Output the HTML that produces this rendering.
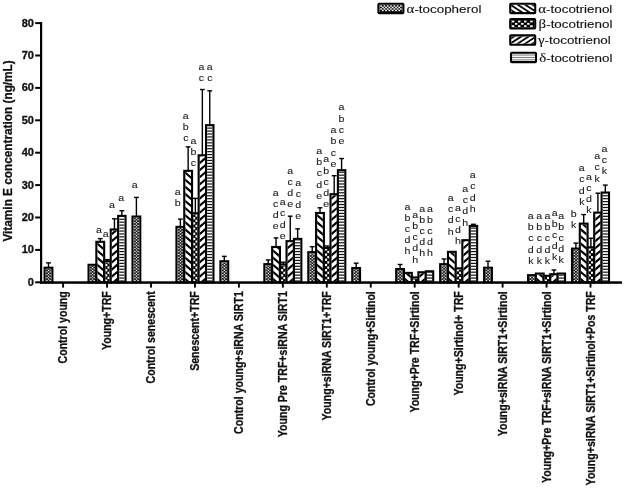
<!DOCTYPE html>
<html lang="en"><head><meta charset="utf-8"><title>Vitamin E concentration</title>
<style>html,body{margin:0;padding:0;background:#fff}svg{display:block;filter:grayscale(1)}text{font-family:"Liberation Sans",Arial,sans-serif;fill:#111}.b{font-weight:bold;stroke:#111;stroke-width:0.3}.g{font-family:"Liberation Serif","DejaVu Serif",serif}.t{stroke:#111;stroke-width:0.12}.l{stroke:#222;stroke-width:0.1;fill:#1a1a1a}.d line{stroke:#000;stroke-width:2.15}</style></head><body>
<svg width="625" height="489" viewBox="0 0 625 489">
<rect width="625" height="489" fill="#fff"/>
<g class="d">
<rect x="47.80" y="262.86" width="1.4" height="4.86" fill="#000"/>
<rect x="46.10" y="262.16" width="4.8" height="1.4" fill="#000"/>
<rect x="44.60" y="267.72" width="7.80" height="14.58" fill="#fff"/>
<clipPath id="c1"><rect x="45.65" y="268.77" width="5.70" height="12.53"/></clipPath><g clip-path="url(#c1)"><rect x="45.65" y="268.77" width="5.70" height="12.53" fill="#1c1c1c"/><rect x="46.35" y="279.97" width="1.28" height="1.16" fill="#fff"/><rect x="49.55" y="279.97" width="1.28" height="1.16" fill="#fff"/><rect x="47.95" y="278.52" width="1.28" height="1.16" fill="#fff"/><rect x="51.15" y="278.52" width="1.28" height="1.16" fill="#fff"/><rect x="46.35" y="277.07" width="1.28" height="1.16" fill="#fff"/><rect x="49.55" y="277.07" width="1.28" height="1.16" fill="#fff"/><rect x="47.95" y="275.62" width="1.28" height="1.16" fill="#fff"/><rect x="51.15" y="275.62" width="1.28" height="1.16" fill="#fff"/><rect x="46.35" y="274.17" width="1.28" height="1.16" fill="#fff"/><rect x="49.55" y="274.17" width="1.28" height="1.16" fill="#fff"/><rect x="47.95" y="272.72" width="1.28" height="1.16" fill="#fff"/><rect x="51.15" y="272.72" width="1.28" height="1.16" fill="#fff"/><rect x="46.35" y="271.27" width="1.28" height="1.16" fill="#fff"/><rect x="49.55" y="271.27" width="1.28" height="1.16" fill="#fff"/><rect x="47.95" y="269.82" width="1.28" height="1.16" fill="#fff"/><rect x="51.15" y="269.82" width="1.28" height="1.16" fill="#fff"/><rect x="46.35" y="268.37" width="1.28" height="1.16" fill="#fff"/><rect x="49.55" y="268.37" width="1.28" height="1.16" fill="#fff"/></g>
<rect x="44.60" y="267.72" width="7.80" height="14.58" fill="none" stroke="#000" stroke-width="2.10"/>
<rect x="88.55" y="264.80" width="7.80" height="17.50" fill="#fff"/>
<clipPath id="c2"><rect x="89.60" y="265.85" width="5.70" height="15.45"/></clipPath><g clip-path="url(#c2)"><rect x="89.60" y="265.85" width="5.70" height="15.45" fill="#1c1c1c"/><rect x="90.30" y="279.97" width="1.28" height="1.16" fill="#fff"/><rect x="93.50" y="279.97" width="1.28" height="1.16" fill="#fff"/><rect x="91.90" y="278.52" width="1.28" height="1.16" fill="#fff"/><rect x="95.10" y="278.52" width="1.28" height="1.16" fill="#fff"/><rect x="90.30" y="277.07" width="1.28" height="1.16" fill="#fff"/><rect x="93.50" y="277.07" width="1.28" height="1.16" fill="#fff"/><rect x="91.90" y="275.62" width="1.28" height="1.16" fill="#fff"/><rect x="95.10" y="275.62" width="1.28" height="1.16" fill="#fff"/><rect x="90.30" y="274.17" width="1.28" height="1.16" fill="#fff"/><rect x="93.50" y="274.17" width="1.28" height="1.16" fill="#fff"/><rect x="91.90" y="272.72" width="1.28" height="1.16" fill="#fff"/><rect x="95.10" y="272.72" width="1.28" height="1.16" fill="#fff"/><rect x="90.30" y="271.27" width="1.28" height="1.16" fill="#fff"/><rect x="93.50" y="271.27" width="1.28" height="1.16" fill="#fff"/><rect x="91.90" y="269.82" width="1.28" height="1.16" fill="#fff"/><rect x="95.10" y="269.82" width="1.28" height="1.16" fill="#fff"/><rect x="90.30" y="268.37" width="1.28" height="1.16" fill="#fff"/><rect x="93.50" y="268.37" width="1.28" height="1.16" fill="#fff"/><rect x="91.90" y="266.92" width="1.28" height="1.16" fill="#fff"/><rect x="95.10" y="266.92" width="1.28" height="1.16" fill="#fff"/><rect x="90.30" y="265.47" width="1.28" height="1.16" fill="#fff"/><rect x="93.50" y="265.47" width="1.28" height="1.16" fill="#fff"/></g>
<rect x="88.55" y="264.80" width="7.80" height="17.50" fill="none" stroke="#000" stroke-width="2.10"/>
<rect x="99.55" y="238.56" width="1.4" height="3.24" fill="#000"/>
<rect x="97.85" y="237.86" width="4.8" height="1.4" fill="#000"/>
<rect x="96.35" y="241.80" width="7.80" height="40.50" fill="#fff"/>
<clipPath id="c3"><rect x="97.40" y="242.85" width="5.70" height="38.45"/></clipPath><g clip-path="url(#c3)"><line x1="96.40" y1="278.35" x2="104.10" y2="284.90"/><line x1="96.40" y1="271.25" x2="104.10" y2="277.80"/><line x1="96.40" y1="264.15" x2="104.10" y2="270.69"/><line x1="96.40" y1="257.05" x2="104.10" y2="263.59"/><line x1="96.40" y1="249.95" x2="104.10" y2="256.49"/><line x1="96.40" y1="242.85" x2="104.10" y2="249.39"/><line x1="96.40" y1="235.75" x2="104.10" y2="242.29"/></g>
<rect x="96.35" y="241.80" width="7.80" height="40.50" fill="none" stroke="#000" stroke-width="2.10"/>
<rect x="106.75" y="259.62" width="1.4" height="1.62" fill="#000"/>
<rect x="105.05" y="258.92" width="4.8" height="1.4" fill="#000"/>
<rect x="104.15" y="261.24" width="6.60" height="21.06" fill="#fff"/>
<clipPath id="c4"><rect x="105.20" y="262.29" width="4.50" height="19.01"/></clipPath><g clip-path="url(#c4)"><rect x="105.20" y="262.29" width="4.50" height="19.01" fill="#000"/><rect x="105.30" y="279.50" width="2.05" height="2.20" fill="#fff"/><rect x="107.55" y="276.90" width="2.05" height="2.20" fill="#fff"/><rect x="105.30" y="274.30" width="2.05" height="2.20" fill="#fff"/><rect x="107.55" y="271.70" width="2.05" height="2.20" fill="#fff"/><rect x="105.30" y="269.10" width="2.05" height="2.20" fill="#fff"/><rect x="107.55" y="266.50" width="2.05" height="2.20" fill="#fff"/><rect x="105.30" y="263.90" width="2.05" height="2.20" fill="#fff"/><rect x="107.55" y="261.30" width="2.05" height="2.20" fill="#fff"/></g>
<rect x="104.15" y="261.24" width="6.60" height="21.06" fill="none" stroke="#000" stroke-width="2.10"/>
<rect x="113.75" y="218.80" width="1.4" height="10.69" fill="#000"/>
<rect x="112.05" y="218.10" width="4.8" height="1.4" fill="#000"/>
<rect x="110.75" y="229.49" width="7.40" height="52.81" fill="#fff"/>
<clipPath id="c5"><rect x="111.80" y="230.54" width="5.30" height="50.76"/></clipPath><g clip-path="url(#c5)"><line x1="110.80" y1="284.56" x2="118.10" y2="278.35"/><line x1="110.80" y1="277.45" x2="118.10" y2="271.25"/><line x1="110.80" y1="270.35" x2="118.10" y2="264.15"/><line x1="110.80" y1="263.25" x2="118.10" y2="257.05"/><line x1="110.80" y1="256.15" x2="118.10" y2="249.95"/><line x1="110.80" y1="249.05" x2="118.10" y2="242.85"/><line x1="110.80" y1="241.95" x2="118.10" y2="235.75"/><line x1="110.80" y1="234.85" x2="118.10" y2="228.65"/><line x1="110.80" y1="227.75" x2="118.10" y2="221.55"/></g>
<rect x="110.75" y="229.49" width="7.40" height="52.81" fill="none" stroke="#000" stroke-width="2.10"/>
<rect x="121.15" y="210.70" width="1.4" height="5.18" fill="#000"/>
<rect x="119.45" y="210.00" width="4.8" height="1.4" fill="#000"/>
<rect x="118.15" y="215.88" width="7.40" height="66.42" fill="#fff"/>
<clipPath id="c6"><rect x="119.20" y="216.93" width="5.30" height="64.37"/></clipPath><g clip-path="url(#c6)"><rect x="119.20" y="280.40" width="5.30" height="1.2" fill="#111"/><rect x="119.20" y="277.46" width="5.30" height="1.2" fill="#111"/><rect x="119.20" y="274.52" width="5.30" height="1.2" fill="#111"/><rect x="119.20" y="271.58" width="5.30" height="1.2" fill="#111"/><rect x="119.20" y="268.64" width="5.30" height="1.2" fill="#111"/><rect x="119.20" y="265.70" width="5.30" height="1.2" fill="#111"/><rect x="119.20" y="262.76" width="5.30" height="1.2" fill="#111"/><rect x="119.20" y="259.82" width="5.30" height="1.2" fill="#111"/><rect x="119.20" y="256.88" width="5.30" height="1.2" fill="#111"/><rect x="119.20" y="253.94" width="5.30" height="1.2" fill="#111"/><rect x="119.20" y="251.00" width="5.30" height="1.2" fill="#111"/><rect x="119.20" y="248.06" width="5.30" height="1.2" fill="#111"/><rect x="119.20" y="245.12" width="5.30" height="1.2" fill="#111"/><rect x="119.20" y="242.18" width="5.30" height="1.2" fill="#111"/><rect x="119.20" y="239.24" width="5.30" height="1.2" fill="#111"/><rect x="119.20" y="236.30" width="5.30" height="1.2" fill="#111"/><rect x="119.20" y="233.36" width="5.30" height="1.2" fill="#111"/><rect x="119.20" y="230.42" width="5.30" height="1.2" fill="#111"/><rect x="119.20" y="227.48" width="5.30" height="1.2" fill="#111"/><rect x="119.20" y="224.54" width="5.30" height="1.2" fill="#111"/><rect x="119.20" y="221.60" width="5.30" height="1.2" fill="#111"/><rect x="119.20" y="218.66" width="5.30" height="1.2" fill="#111"/><rect x="119.20" y="215.72" width="5.30" height="1.2" fill="#111"/></g>
<rect x="118.15" y="215.88" width="7.40" height="66.42" fill="none" stroke="#000" stroke-width="2.10"/>
<rect x="135.70" y="197.41" width="1.4" height="19.12" fill="#000"/>
<rect x="134.00" y="196.71" width="4.8" height="1.4" fill="#000"/>
<rect x="132.50" y="216.53" width="7.80" height="65.77" fill="#fff"/>
<clipPath id="c7"><rect x="133.55" y="217.58" width="5.70" height="63.72"/></clipPath><g clip-path="url(#c7)"><rect x="133.55" y="217.58" width="5.70" height="63.72" fill="#1c1c1c"/><rect x="134.25" y="279.97" width="1.28" height="1.16" fill="#fff"/><rect x="137.45" y="279.97" width="1.28" height="1.16" fill="#fff"/><rect x="135.85" y="278.52" width="1.28" height="1.16" fill="#fff"/><rect x="139.05" y="278.52" width="1.28" height="1.16" fill="#fff"/><rect x="134.25" y="277.07" width="1.28" height="1.16" fill="#fff"/><rect x="137.45" y="277.07" width="1.28" height="1.16" fill="#fff"/><rect x="135.85" y="275.62" width="1.28" height="1.16" fill="#fff"/><rect x="139.05" y="275.62" width="1.28" height="1.16" fill="#fff"/><rect x="134.25" y="274.17" width="1.28" height="1.16" fill="#fff"/><rect x="137.45" y="274.17" width="1.28" height="1.16" fill="#fff"/><rect x="135.85" y="272.72" width="1.28" height="1.16" fill="#fff"/><rect x="139.05" y="272.72" width="1.28" height="1.16" fill="#fff"/><rect x="134.25" y="271.27" width="1.28" height="1.16" fill="#fff"/><rect x="137.45" y="271.27" width="1.28" height="1.16" fill="#fff"/><rect x="135.85" y="269.82" width="1.28" height="1.16" fill="#fff"/><rect x="139.05" y="269.82" width="1.28" height="1.16" fill="#fff"/><rect x="134.25" y="268.37" width="1.28" height="1.16" fill="#fff"/><rect x="137.45" y="268.37" width="1.28" height="1.16" fill="#fff"/><rect x="135.85" y="266.92" width="1.28" height="1.16" fill="#fff"/><rect x="139.05" y="266.92" width="1.28" height="1.16" fill="#fff"/><rect x="134.25" y="265.47" width="1.28" height="1.16" fill="#fff"/><rect x="137.45" y="265.47" width="1.28" height="1.16" fill="#fff"/><rect x="135.85" y="264.02" width="1.28" height="1.16" fill="#fff"/><rect x="139.05" y="264.02" width="1.28" height="1.16" fill="#fff"/><rect x="134.25" y="262.57" width="1.28" height="1.16" fill="#fff"/><rect x="137.45" y="262.57" width="1.28" height="1.16" fill="#fff"/><rect x="135.85" y="261.12" width="1.28" height="1.16" fill="#fff"/><rect x="139.05" y="261.12" width="1.28" height="1.16" fill="#fff"/><rect x="134.25" y="259.67" width="1.28" height="1.16" fill="#fff"/><rect x="137.45" y="259.67" width="1.28" height="1.16" fill="#fff"/><rect x="135.85" y="258.22" width="1.28" height="1.16" fill="#fff"/><rect x="139.05" y="258.22" width="1.28" height="1.16" fill="#fff"/><rect x="134.25" y="256.77" width="1.28" height="1.16" fill="#fff"/><rect x="137.45" y="256.77" width="1.28" height="1.16" fill="#fff"/><rect x="135.85" y="255.32" width="1.28" height="1.16" fill="#fff"/><rect x="139.05" y="255.32" width="1.28" height="1.16" fill="#fff"/><rect x="134.25" y="253.87" width="1.28" height="1.16" fill="#fff"/><rect x="137.45" y="253.87" width="1.28" height="1.16" fill="#fff"/><rect x="135.85" y="252.42" width="1.28" height="1.16" fill="#fff"/><rect x="139.05" y="252.42" width="1.28" height="1.16" fill="#fff"/><rect x="134.25" y="250.97" width="1.28" height="1.16" fill="#fff"/><rect x="137.45" y="250.97" width="1.28" height="1.16" fill="#fff"/><rect x="135.85" y="249.52" width="1.28" height="1.16" fill="#fff"/><rect x="139.05" y="249.52" width="1.28" height="1.16" fill="#fff"/><rect x="134.25" y="248.07" width="1.28" height="1.16" fill="#fff"/><rect x="137.45" y="248.07" width="1.28" height="1.16" fill="#fff"/><rect x="135.85" y="246.62" width="1.28" height="1.16" fill="#fff"/><rect x="139.05" y="246.62" width="1.28" height="1.16" fill="#fff"/><rect x="134.25" y="245.17" width="1.28" height="1.16" fill="#fff"/><rect x="137.45" y="245.17" width="1.28" height="1.16" fill="#fff"/><rect x="135.85" y="243.72" width="1.28" height="1.16" fill="#fff"/><rect x="139.05" y="243.72" width="1.28" height="1.16" fill="#fff"/><rect x="134.25" y="242.27" width="1.28" height="1.16" fill="#fff"/><rect x="137.45" y="242.27" width="1.28" height="1.16" fill="#fff"/><rect x="135.85" y="240.82" width="1.28" height="1.16" fill="#fff"/><rect x="139.05" y="240.82" width="1.28" height="1.16" fill="#fff"/><rect x="134.25" y="239.37" width="1.28" height="1.16" fill="#fff"/><rect x="137.45" y="239.37" width="1.28" height="1.16" fill="#fff"/><rect x="135.85" y="237.92" width="1.28" height="1.16" fill="#fff"/><rect x="139.05" y="237.92" width="1.28" height="1.16" fill="#fff"/><rect x="134.25" y="236.47" width="1.28" height="1.16" fill="#fff"/><rect x="137.45" y="236.47" width="1.28" height="1.16" fill="#fff"/><rect x="135.85" y="235.02" width="1.28" height="1.16" fill="#fff"/><rect x="139.05" y="235.02" width="1.28" height="1.16" fill="#fff"/><rect x="134.25" y="233.57" width="1.28" height="1.16" fill="#fff"/><rect x="137.45" y="233.57" width="1.28" height="1.16" fill="#fff"/><rect x="135.85" y="232.12" width="1.28" height="1.16" fill="#fff"/><rect x="139.05" y="232.12" width="1.28" height="1.16" fill="#fff"/><rect x="134.25" y="230.67" width="1.28" height="1.16" fill="#fff"/><rect x="137.45" y="230.67" width="1.28" height="1.16" fill="#fff"/><rect x="135.85" y="229.22" width="1.28" height="1.16" fill="#fff"/><rect x="139.05" y="229.22" width="1.28" height="1.16" fill="#fff"/><rect x="134.25" y="227.77" width="1.28" height="1.16" fill="#fff"/><rect x="137.45" y="227.77" width="1.28" height="1.16" fill="#fff"/><rect x="135.85" y="226.32" width="1.28" height="1.16" fill="#fff"/><rect x="139.05" y="226.32" width="1.28" height="1.16" fill="#fff"/><rect x="134.25" y="224.87" width="1.28" height="1.16" fill="#fff"/><rect x="137.45" y="224.87" width="1.28" height="1.16" fill="#fff"/><rect x="135.85" y="223.42" width="1.28" height="1.16" fill="#fff"/><rect x="139.05" y="223.42" width="1.28" height="1.16" fill="#fff"/><rect x="134.25" y="221.97" width="1.28" height="1.16" fill="#fff"/><rect x="137.45" y="221.97" width="1.28" height="1.16" fill="#fff"/><rect x="135.85" y="220.52" width="1.28" height="1.16" fill="#fff"/><rect x="139.05" y="220.52" width="1.28" height="1.16" fill="#fff"/><rect x="134.25" y="219.07" width="1.28" height="1.16" fill="#fff"/><rect x="137.45" y="219.07" width="1.28" height="1.16" fill="#fff"/><rect x="135.85" y="217.62" width="1.28" height="1.16" fill="#fff"/><rect x="139.05" y="217.62" width="1.28" height="1.16" fill="#fff"/></g>
<rect x="132.50" y="216.53" width="7.80" height="65.77" fill="none" stroke="#000" stroke-width="2.10"/>
<rect x="179.65" y="219.12" width="1.4" height="7.78" fill="#000"/>
<rect x="177.95" y="218.42" width="4.8" height="1.4" fill="#000"/>
<rect x="176.45" y="226.90" width="7.80" height="55.40" fill="#fff"/>
<clipPath id="c8"><rect x="177.50" y="227.95" width="5.70" height="53.35"/></clipPath><g clip-path="url(#c8)"><rect x="177.50" y="227.95" width="5.70" height="53.35" fill="#1c1c1c"/><rect x="178.20" y="279.97" width="1.28" height="1.16" fill="#fff"/><rect x="181.40" y="279.97" width="1.28" height="1.16" fill="#fff"/><rect x="179.80" y="278.52" width="1.28" height="1.16" fill="#fff"/><rect x="183.00" y="278.52" width="1.28" height="1.16" fill="#fff"/><rect x="178.20" y="277.07" width="1.28" height="1.16" fill="#fff"/><rect x="181.40" y="277.07" width="1.28" height="1.16" fill="#fff"/><rect x="179.80" y="275.62" width="1.28" height="1.16" fill="#fff"/><rect x="183.00" y="275.62" width="1.28" height="1.16" fill="#fff"/><rect x="178.20" y="274.17" width="1.28" height="1.16" fill="#fff"/><rect x="181.40" y="274.17" width="1.28" height="1.16" fill="#fff"/><rect x="179.80" y="272.72" width="1.28" height="1.16" fill="#fff"/><rect x="183.00" y="272.72" width="1.28" height="1.16" fill="#fff"/><rect x="178.20" y="271.27" width="1.28" height="1.16" fill="#fff"/><rect x="181.40" y="271.27" width="1.28" height="1.16" fill="#fff"/><rect x="179.80" y="269.82" width="1.28" height="1.16" fill="#fff"/><rect x="183.00" y="269.82" width="1.28" height="1.16" fill="#fff"/><rect x="178.20" y="268.37" width="1.28" height="1.16" fill="#fff"/><rect x="181.40" y="268.37" width="1.28" height="1.16" fill="#fff"/><rect x="179.80" y="266.92" width="1.28" height="1.16" fill="#fff"/><rect x="183.00" y="266.92" width="1.28" height="1.16" fill="#fff"/><rect x="178.20" y="265.47" width="1.28" height="1.16" fill="#fff"/><rect x="181.40" y="265.47" width="1.28" height="1.16" fill="#fff"/><rect x="179.80" y="264.02" width="1.28" height="1.16" fill="#fff"/><rect x="183.00" y="264.02" width="1.28" height="1.16" fill="#fff"/><rect x="178.20" y="262.57" width="1.28" height="1.16" fill="#fff"/><rect x="181.40" y="262.57" width="1.28" height="1.16" fill="#fff"/><rect x="179.80" y="261.12" width="1.28" height="1.16" fill="#fff"/><rect x="183.00" y="261.12" width="1.28" height="1.16" fill="#fff"/><rect x="178.20" y="259.67" width="1.28" height="1.16" fill="#fff"/><rect x="181.40" y="259.67" width="1.28" height="1.16" fill="#fff"/><rect x="179.80" y="258.22" width="1.28" height="1.16" fill="#fff"/><rect x="183.00" y="258.22" width="1.28" height="1.16" fill="#fff"/><rect x="178.20" y="256.77" width="1.28" height="1.16" fill="#fff"/><rect x="181.40" y="256.77" width="1.28" height="1.16" fill="#fff"/><rect x="179.80" y="255.32" width="1.28" height="1.16" fill="#fff"/><rect x="183.00" y="255.32" width="1.28" height="1.16" fill="#fff"/><rect x="178.20" y="253.87" width="1.28" height="1.16" fill="#fff"/><rect x="181.40" y="253.87" width="1.28" height="1.16" fill="#fff"/><rect x="179.80" y="252.42" width="1.28" height="1.16" fill="#fff"/><rect x="183.00" y="252.42" width="1.28" height="1.16" fill="#fff"/><rect x="178.20" y="250.97" width="1.28" height="1.16" fill="#fff"/><rect x="181.40" y="250.97" width="1.28" height="1.16" fill="#fff"/><rect x="179.80" y="249.52" width="1.28" height="1.16" fill="#fff"/><rect x="183.00" y="249.52" width="1.28" height="1.16" fill="#fff"/><rect x="178.20" y="248.07" width="1.28" height="1.16" fill="#fff"/><rect x="181.40" y="248.07" width="1.28" height="1.16" fill="#fff"/><rect x="179.80" y="246.62" width="1.28" height="1.16" fill="#fff"/><rect x="183.00" y="246.62" width="1.28" height="1.16" fill="#fff"/><rect x="178.20" y="245.17" width="1.28" height="1.16" fill="#fff"/><rect x="181.40" y="245.17" width="1.28" height="1.16" fill="#fff"/><rect x="179.80" y="243.72" width="1.28" height="1.16" fill="#fff"/><rect x="183.00" y="243.72" width="1.28" height="1.16" fill="#fff"/><rect x="178.20" y="242.27" width="1.28" height="1.16" fill="#fff"/><rect x="181.40" y="242.27" width="1.28" height="1.16" fill="#fff"/><rect x="179.80" y="240.82" width="1.28" height="1.16" fill="#fff"/><rect x="183.00" y="240.82" width="1.28" height="1.16" fill="#fff"/><rect x="178.20" y="239.37" width="1.28" height="1.16" fill="#fff"/><rect x="181.40" y="239.37" width="1.28" height="1.16" fill="#fff"/><rect x="179.80" y="237.92" width="1.28" height="1.16" fill="#fff"/><rect x="183.00" y="237.92" width="1.28" height="1.16" fill="#fff"/><rect x="178.20" y="236.47" width="1.28" height="1.16" fill="#fff"/><rect x="181.40" y="236.47" width="1.28" height="1.16" fill="#fff"/><rect x="179.80" y="235.02" width="1.28" height="1.16" fill="#fff"/><rect x="183.00" y="235.02" width="1.28" height="1.16" fill="#fff"/><rect x="178.20" y="233.57" width="1.28" height="1.16" fill="#fff"/><rect x="181.40" y="233.57" width="1.28" height="1.16" fill="#fff"/><rect x="179.80" y="232.12" width="1.28" height="1.16" fill="#fff"/><rect x="183.00" y="232.12" width="1.28" height="1.16" fill="#fff"/><rect x="178.20" y="230.67" width="1.28" height="1.16" fill="#fff"/><rect x="181.40" y="230.67" width="1.28" height="1.16" fill="#fff"/><rect x="179.80" y="229.22" width="1.28" height="1.16" fill="#fff"/><rect x="183.00" y="229.22" width="1.28" height="1.16" fill="#fff"/><rect x="178.20" y="227.77" width="1.28" height="1.16" fill="#fff"/><rect x="181.40" y="227.77" width="1.28" height="1.16" fill="#fff"/></g>
<rect x="176.45" y="226.90" width="7.80" height="55.40" fill="none" stroke="#000" stroke-width="2.10"/>
<rect x="187.45" y="146.87" width="1.4" height="23.98" fill="#000"/>
<rect x="185.75" y="146.17" width="4.8" height="1.4" fill="#000"/>
<rect x="184.25" y="170.84" width="7.80" height="111.46" fill="#fff"/>
<clipPath id="c9"><rect x="185.30" y="171.89" width="5.70" height="109.41"/></clipPath><g clip-path="url(#c9)"><line x1="184.30" y1="278.35" x2="192.00" y2="284.89"/><line x1="184.30" y1="271.25" x2="192.00" y2="277.79"/><line x1="184.30" y1="264.15" x2="192.00" y2="270.69"/><line x1="184.30" y1="257.05" x2="192.00" y2="263.59"/><line x1="184.30" y1="249.95" x2="192.00" y2="256.49"/><line x1="184.30" y1="242.85" x2="192.00" y2="249.39"/><line x1="184.30" y1="235.75" x2="192.00" y2="242.29"/><line x1="184.30" y1="228.65" x2="192.00" y2="235.19"/><line x1="184.30" y1="221.55" x2="192.00" y2="228.09"/><line x1="184.30" y1="214.45" x2="192.00" y2="220.99"/><line x1="184.30" y1="207.35" x2="192.00" y2="213.89"/><line x1="184.30" y1="200.25" x2="192.00" y2="206.79"/><line x1="184.30" y1="193.15" x2="192.00" y2="199.69"/><line x1="184.30" y1="186.05" x2="192.00" y2="192.59"/><line x1="184.30" y1="178.95" x2="192.00" y2="185.49"/><line x1="184.30" y1="171.85" x2="192.00" y2="178.39"/><line x1="184.30" y1="164.75" x2="192.00" y2="171.29"/></g>
<rect x="184.25" y="170.84" width="7.80" height="111.46" fill="none" stroke="#000" stroke-width="2.10"/>
<rect x="194.65" y="198.38" width="1.4" height="14.90" fill="#000"/>
<rect x="192.95" y="197.68" width="4.8" height="1.4" fill="#000"/>
<rect x="192.05" y="213.29" width="6.60" height="69.01" fill="#fff"/>
<clipPath id="c10"><rect x="193.10" y="214.34" width="4.50" height="66.96"/></clipPath><g clip-path="url(#c10)"><rect x="193.10" y="214.34" width="4.50" height="66.96" fill="#000"/><rect x="193.20" y="279.50" width="2.05" height="2.20" fill="#fff"/><rect x="195.45" y="276.90" width="2.05" height="2.20" fill="#fff"/><rect x="193.20" y="274.30" width="2.05" height="2.20" fill="#fff"/><rect x="195.45" y="271.70" width="2.05" height="2.20" fill="#fff"/><rect x="193.20" y="269.10" width="2.05" height="2.20" fill="#fff"/><rect x="195.45" y="266.50" width="2.05" height="2.20" fill="#fff"/><rect x="193.20" y="263.90" width="2.05" height="2.20" fill="#fff"/><rect x="195.45" y="261.30" width="2.05" height="2.20" fill="#fff"/><rect x="193.20" y="258.70" width="2.05" height="2.20" fill="#fff"/><rect x="195.45" y="256.10" width="2.05" height="2.20" fill="#fff"/><rect x="193.20" y="253.50" width="2.05" height="2.20" fill="#fff"/><rect x="195.45" y="250.90" width="2.05" height="2.20" fill="#fff"/><rect x="193.20" y="248.30" width="2.05" height="2.20" fill="#fff"/><rect x="195.45" y="245.70" width="2.05" height="2.20" fill="#fff"/><rect x="193.20" y="243.10" width="2.05" height="2.20" fill="#fff"/><rect x="195.45" y="240.50" width="2.05" height="2.20" fill="#fff"/><rect x="193.20" y="237.90" width="2.05" height="2.20" fill="#fff"/><rect x="195.45" y="235.30" width="2.05" height="2.20" fill="#fff"/><rect x="193.20" y="232.70" width="2.05" height="2.20" fill="#fff"/><rect x="195.45" y="230.10" width="2.05" height="2.20" fill="#fff"/><rect x="193.20" y="227.50" width="2.05" height="2.20" fill="#fff"/><rect x="195.45" y="224.90" width="2.05" height="2.20" fill="#fff"/><rect x="193.20" y="222.30" width="2.05" height="2.20" fill="#fff"/><rect x="195.45" y="219.70" width="2.05" height="2.20" fill="#fff"/><rect x="193.20" y="217.10" width="2.05" height="2.20" fill="#fff"/><rect x="195.45" y="214.50" width="2.05" height="2.20" fill="#fff"/></g>
<rect x="192.05" y="213.29" width="6.60" height="69.01" fill="none" stroke="#000" stroke-width="2.10"/>
<rect x="201.65" y="89.52" width="1.4" height="65.77" fill="#000"/>
<rect x="199.95" y="88.82" width="4.8" height="1.4" fill="#000"/>
<rect x="198.65" y="155.29" width="7.40" height="127.01" fill="#fff"/>
<clipPath id="c11"><rect x="199.70" y="156.34" width="5.30" height="124.96"/></clipPath><g clip-path="url(#c11)"><line x1="198.70" y1="284.56" x2="206.00" y2="278.35"/><line x1="198.70" y1="277.45" x2="206.00" y2="271.25"/><line x1="198.70" y1="270.35" x2="206.00" y2="264.15"/><line x1="198.70" y1="263.25" x2="206.00" y2="257.05"/><line x1="198.70" y1="256.15" x2="206.00" y2="249.95"/><line x1="198.70" y1="249.05" x2="206.00" y2="242.85"/><line x1="198.70" y1="241.95" x2="206.00" y2="235.75"/><line x1="198.70" y1="234.85" x2="206.00" y2="228.65"/><line x1="198.70" y1="227.75" x2="206.00" y2="221.55"/><line x1="198.70" y1="220.65" x2="206.00" y2="214.45"/><line x1="198.70" y1="213.55" x2="206.00" y2="207.35"/><line x1="198.70" y1="206.45" x2="206.00" y2="200.25"/><line x1="198.70" y1="199.35" x2="206.00" y2="193.15"/><line x1="198.70" y1="192.25" x2="206.00" y2="186.05"/><line x1="198.70" y1="185.15" x2="206.00" y2="178.95"/><line x1="198.70" y1="178.05" x2="206.00" y2="171.85"/><line x1="198.70" y1="170.95" x2="206.00" y2="164.75"/><line x1="198.70" y1="163.85" x2="206.00" y2="157.65"/><line x1="198.70" y1="156.75" x2="206.00" y2="150.55"/></g>
<rect x="198.65" y="155.29" width="7.40" height="127.01" fill="none" stroke="#000" stroke-width="2.10"/>
<rect x="209.05" y="90.82" width="1.4" height="34.34" fill="#000"/>
<rect x="207.35" y="90.12" width="4.8" height="1.4" fill="#000"/>
<rect x="206.05" y="125.16" width="7.40" height="157.14" fill="#fff"/>
<clipPath id="c12"><rect x="207.10" y="126.21" width="5.30" height="155.09"/></clipPath><g clip-path="url(#c12)"><rect x="207.10" y="280.40" width="5.30" height="1.2" fill="#111"/><rect x="207.10" y="277.46" width="5.30" height="1.2" fill="#111"/><rect x="207.10" y="274.52" width="5.30" height="1.2" fill="#111"/><rect x="207.10" y="271.58" width="5.30" height="1.2" fill="#111"/><rect x="207.10" y="268.64" width="5.30" height="1.2" fill="#111"/><rect x="207.10" y="265.70" width="5.30" height="1.2" fill="#111"/><rect x="207.10" y="262.76" width="5.30" height="1.2" fill="#111"/><rect x="207.10" y="259.82" width="5.30" height="1.2" fill="#111"/><rect x="207.10" y="256.88" width="5.30" height="1.2" fill="#111"/><rect x="207.10" y="253.94" width="5.30" height="1.2" fill="#111"/><rect x="207.10" y="251.00" width="5.30" height="1.2" fill="#111"/><rect x="207.10" y="248.06" width="5.30" height="1.2" fill="#111"/><rect x="207.10" y="245.12" width="5.30" height="1.2" fill="#111"/><rect x="207.10" y="242.18" width="5.30" height="1.2" fill="#111"/><rect x="207.10" y="239.24" width="5.30" height="1.2" fill="#111"/><rect x="207.10" y="236.30" width="5.30" height="1.2" fill="#111"/><rect x="207.10" y="233.36" width="5.30" height="1.2" fill="#111"/><rect x="207.10" y="230.42" width="5.30" height="1.2" fill="#111"/><rect x="207.10" y="227.48" width="5.30" height="1.2" fill="#111"/><rect x="207.10" y="224.54" width="5.30" height="1.2" fill="#111"/><rect x="207.10" y="221.60" width="5.30" height="1.2" fill="#111"/><rect x="207.10" y="218.66" width="5.30" height="1.2" fill="#111"/><rect x="207.10" y="215.72" width="5.30" height="1.2" fill="#111"/><rect x="207.10" y="212.78" width="5.30" height="1.2" fill="#111"/><rect x="207.10" y="209.84" width="5.30" height="1.2" fill="#111"/><rect x="207.10" y="206.90" width="5.30" height="1.2" fill="#111"/><rect x="207.10" y="203.96" width="5.30" height="1.2" fill="#111"/><rect x="207.10" y="201.02" width="5.30" height="1.2" fill="#111"/><rect x="207.10" y="198.08" width="5.30" height="1.2" fill="#111"/><rect x="207.10" y="195.14" width="5.30" height="1.2" fill="#111"/><rect x="207.10" y="192.20" width="5.30" height="1.2" fill="#111"/><rect x="207.10" y="189.26" width="5.30" height="1.2" fill="#111"/><rect x="207.10" y="186.32" width="5.30" height="1.2" fill="#111"/><rect x="207.10" y="183.38" width="5.30" height="1.2" fill="#111"/><rect x="207.10" y="180.44" width="5.30" height="1.2" fill="#111"/><rect x="207.10" y="177.50" width="5.30" height="1.2" fill="#111"/><rect x="207.10" y="174.56" width="5.30" height="1.2" fill="#111"/><rect x="207.10" y="171.62" width="5.30" height="1.2" fill="#111"/><rect x="207.10" y="168.68" width="5.30" height="1.2" fill="#111"/><rect x="207.10" y="165.74" width="5.30" height="1.2" fill="#111"/><rect x="207.10" y="162.80" width="5.30" height="1.2" fill="#111"/><rect x="207.10" y="159.86" width="5.30" height="1.2" fill="#111"/><rect x="207.10" y="156.92" width="5.30" height="1.2" fill="#111"/><rect x="207.10" y="153.98" width="5.30" height="1.2" fill="#111"/><rect x="207.10" y="151.04" width="5.30" height="1.2" fill="#111"/><rect x="207.10" y="148.10" width="5.30" height="1.2" fill="#111"/><rect x="207.10" y="145.16" width="5.30" height="1.2" fill="#111"/><rect x="207.10" y="142.22" width="5.30" height="1.2" fill="#111"/><rect x="207.10" y="139.28" width="5.30" height="1.2" fill="#111"/><rect x="207.10" y="136.34" width="5.30" height="1.2" fill="#111"/><rect x="207.10" y="133.40" width="5.30" height="1.2" fill="#111"/><rect x="207.10" y="130.46" width="5.30" height="1.2" fill="#111"/><rect x="207.10" y="127.52" width="5.30" height="1.2" fill="#111"/><rect x="207.10" y="124.58" width="5.30" height="1.2" fill="#111"/></g>
<rect x="206.05" y="125.16" width="7.40" height="157.14" fill="none" stroke="#000" stroke-width="2.10"/>
<rect x="223.60" y="256.38" width="1.4" height="4.86" fill="#000"/>
<rect x="221.90" y="255.68" width="4.8" height="1.4" fill="#000"/>
<rect x="220.40" y="261.24" width="7.80" height="21.06" fill="#fff"/>
<clipPath id="c13"><rect x="221.45" y="262.29" width="5.70" height="19.01"/></clipPath><g clip-path="url(#c13)"><rect x="221.45" y="262.29" width="5.70" height="19.01" fill="#1c1c1c"/><rect x="222.15" y="279.97" width="1.28" height="1.16" fill="#fff"/><rect x="225.35" y="279.97" width="1.28" height="1.16" fill="#fff"/><rect x="223.75" y="278.52" width="1.28" height="1.16" fill="#fff"/><rect x="226.95" y="278.52" width="1.28" height="1.16" fill="#fff"/><rect x="222.15" y="277.07" width="1.28" height="1.16" fill="#fff"/><rect x="225.35" y="277.07" width="1.28" height="1.16" fill="#fff"/><rect x="223.75" y="275.62" width="1.28" height="1.16" fill="#fff"/><rect x="226.95" y="275.62" width="1.28" height="1.16" fill="#fff"/><rect x="222.15" y="274.17" width="1.28" height="1.16" fill="#fff"/><rect x="225.35" y="274.17" width="1.28" height="1.16" fill="#fff"/><rect x="223.75" y="272.72" width="1.28" height="1.16" fill="#fff"/><rect x="226.95" y="272.72" width="1.28" height="1.16" fill="#fff"/><rect x="222.15" y="271.27" width="1.28" height="1.16" fill="#fff"/><rect x="225.35" y="271.27" width="1.28" height="1.16" fill="#fff"/><rect x="223.75" y="269.82" width="1.28" height="1.16" fill="#fff"/><rect x="226.95" y="269.82" width="1.28" height="1.16" fill="#fff"/><rect x="222.15" y="268.37" width="1.28" height="1.16" fill="#fff"/><rect x="225.35" y="268.37" width="1.28" height="1.16" fill="#fff"/><rect x="223.75" y="266.92" width="1.28" height="1.16" fill="#fff"/><rect x="226.95" y="266.92" width="1.28" height="1.16" fill="#fff"/><rect x="222.15" y="265.47" width="1.28" height="1.16" fill="#fff"/><rect x="225.35" y="265.47" width="1.28" height="1.16" fill="#fff"/><rect x="223.75" y="264.02" width="1.28" height="1.16" fill="#fff"/><rect x="226.95" y="264.02" width="1.28" height="1.16" fill="#fff"/><rect x="222.15" y="262.57" width="1.28" height="1.16" fill="#fff"/><rect x="225.35" y="262.57" width="1.28" height="1.16" fill="#fff"/><rect x="223.75" y="261.12" width="1.28" height="1.16" fill="#fff"/><rect x="226.95" y="261.12" width="1.28" height="1.16" fill="#fff"/></g>
<rect x="220.40" y="261.24" width="7.80" height="21.06" fill="none" stroke="#000" stroke-width="2.10"/>
<rect x="267.55" y="259.94" width="1.4" height="4.21" fill="#000"/>
<rect x="265.85" y="259.24" width="4.8" height="1.4" fill="#000"/>
<rect x="264.35" y="264.16" width="7.80" height="18.14" fill="#fff"/>
<clipPath id="c14"><rect x="265.40" y="265.21" width="5.70" height="16.09"/></clipPath><g clip-path="url(#c14)"><rect x="265.40" y="265.21" width="5.70" height="16.09" fill="#1c1c1c"/><rect x="266.10" y="279.97" width="1.28" height="1.16" fill="#fff"/><rect x="269.30" y="279.97" width="1.28" height="1.16" fill="#fff"/><rect x="267.70" y="278.52" width="1.28" height="1.16" fill="#fff"/><rect x="270.90" y="278.52" width="1.28" height="1.16" fill="#fff"/><rect x="266.10" y="277.07" width="1.28" height="1.16" fill="#fff"/><rect x="269.30" y="277.07" width="1.28" height="1.16" fill="#fff"/><rect x="267.70" y="275.62" width="1.28" height="1.16" fill="#fff"/><rect x="270.90" y="275.62" width="1.28" height="1.16" fill="#fff"/><rect x="266.10" y="274.17" width="1.28" height="1.16" fill="#fff"/><rect x="269.30" y="274.17" width="1.28" height="1.16" fill="#fff"/><rect x="267.70" y="272.72" width="1.28" height="1.16" fill="#fff"/><rect x="270.90" y="272.72" width="1.28" height="1.16" fill="#fff"/><rect x="266.10" y="271.27" width="1.28" height="1.16" fill="#fff"/><rect x="269.30" y="271.27" width="1.28" height="1.16" fill="#fff"/><rect x="267.70" y="269.82" width="1.28" height="1.16" fill="#fff"/><rect x="270.90" y="269.82" width="1.28" height="1.16" fill="#fff"/><rect x="266.10" y="268.37" width="1.28" height="1.16" fill="#fff"/><rect x="269.30" y="268.37" width="1.28" height="1.16" fill="#fff"/><rect x="267.70" y="266.92" width="1.28" height="1.16" fill="#fff"/><rect x="270.90" y="266.92" width="1.28" height="1.16" fill="#fff"/><rect x="266.10" y="265.47" width="1.28" height="1.16" fill="#fff"/><rect x="269.30" y="265.47" width="1.28" height="1.16" fill="#fff"/><rect x="267.70" y="264.02" width="1.28" height="1.16" fill="#fff"/><rect x="270.90" y="264.02" width="1.28" height="1.16" fill="#fff"/></g>
<rect x="264.35" y="264.16" width="7.80" height="18.14" fill="none" stroke="#000" stroke-width="2.10"/>
<rect x="275.35" y="237.91" width="1.4" height="9.07" fill="#000"/>
<rect x="273.65" y="237.21" width="4.8" height="1.4" fill="#000"/>
<rect x="272.15" y="246.98" width="7.80" height="35.32" fill="#fff"/>
<clipPath id="c15"><rect x="273.20" y="248.03" width="5.70" height="33.27"/></clipPath><g clip-path="url(#c15)"><line x1="272.20" y1="278.35" x2="279.90" y2="284.89"/><line x1="272.20" y1="271.25" x2="279.90" y2="277.79"/><line x1="272.20" y1="264.15" x2="279.90" y2="270.69"/><line x1="272.20" y1="257.05" x2="279.90" y2="263.59"/><line x1="272.20" y1="249.95" x2="279.90" y2="256.49"/><line x1="272.20" y1="242.85" x2="279.90" y2="249.39"/><line x1="272.20" y1="235.75" x2="279.90" y2="242.29"/></g>
<rect x="272.15" y="246.98" width="7.80" height="35.32" fill="none" stroke="#000" stroke-width="2.10"/>
<rect x="282.55" y="262.21" width="1.4" height="2.27" fill="#000"/>
<rect x="280.85" y="261.51" width="4.8" height="1.4" fill="#000"/>
<rect x="279.95" y="264.48" width="6.60" height="17.82" fill="#fff"/>
<clipPath id="c16"><rect x="281.00" y="265.53" width="4.50" height="15.77"/></clipPath><g clip-path="url(#c16)"><rect x="281.00" y="265.53" width="4.50" height="15.77" fill="#000"/><rect x="281.10" y="279.50" width="2.05" height="2.20" fill="#fff"/><rect x="283.35" y="276.90" width="2.05" height="2.20" fill="#fff"/><rect x="281.10" y="274.30" width="2.05" height="2.20" fill="#fff"/><rect x="283.35" y="271.70" width="2.05" height="2.20" fill="#fff"/><rect x="281.10" y="269.10" width="2.05" height="2.20" fill="#fff"/><rect x="283.35" y="266.50" width="2.05" height="2.20" fill="#fff"/><rect x="281.10" y="263.90" width="2.05" height="2.20" fill="#fff"/></g>
<rect x="279.95" y="264.48" width="6.60" height="17.82" fill="none" stroke="#000" stroke-width="2.10"/>
<rect x="289.55" y="216.20" width="1.4" height="24.95" fill="#000"/>
<rect x="287.85" y="215.50" width="4.8" height="1.4" fill="#000"/>
<rect x="286.55" y="241.15" width="7.40" height="41.15" fill="#fff"/>
<clipPath id="c17"><rect x="287.60" y="242.20" width="5.30" height="39.10"/></clipPath><g clip-path="url(#c17)"><line x1="286.60" y1="284.56" x2="293.90" y2="278.35"/><line x1="286.60" y1="277.45" x2="293.90" y2="271.25"/><line x1="286.60" y1="270.35" x2="293.90" y2="264.15"/><line x1="286.60" y1="263.25" x2="293.90" y2="257.05"/><line x1="286.60" y1="256.15" x2="293.90" y2="249.95"/><line x1="286.60" y1="249.05" x2="293.90" y2="242.85"/><line x1="286.60" y1="241.95" x2="293.90" y2="235.75"/></g>
<rect x="286.55" y="241.15" width="7.40" height="41.15" fill="none" stroke="#000" stroke-width="2.10"/>
<rect x="296.95" y="228.84" width="1.4" height="10.04" fill="#000"/>
<rect x="295.25" y="228.14" width="4.8" height="1.4" fill="#000"/>
<rect x="293.95" y="238.88" width="7.40" height="43.42" fill="#fff"/>
<clipPath id="c18"><rect x="295.00" y="239.93" width="5.30" height="41.37"/></clipPath><g clip-path="url(#c18)"><rect x="295.00" y="280.40" width="5.30" height="1.2" fill="#111"/><rect x="295.00" y="277.46" width="5.30" height="1.2" fill="#111"/><rect x="295.00" y="274.52" width="5.30" height="1.2" fill="#111"/><rect x="295.00" y="271.58" width="5.30" height="1.2" fill="#111"/><rect x="295.00" y="268.64" width="5.30" height="1.2" fill="#111"/><rect x="295.00" y="265.70" width="5.30" height="1.2" fill="#111"/><rect x="295.00" y="262.76" width="5.30" height="1.2" fill="#111"/><rect x="295.00" y="259.82" width="5.30" height="1.2" fill="#111"/><rect x="295.00" y="256.88" width="5.30" height="1.2" fill="#111"/><rect x="295.00" y="253.94" width="5.30" height="1.2" fill="#111"/><rect x="295.00" y="251.00" width="5.30" height="1.2" fill="#111"/><rect x="295.00" y="248.06" width="5.30" height="1.2" fill="#111"/><rect x="295.00" y="245.12" width="5.30" height="1.2" fill="#111"/><rect x="295.00" y="242.18" width="5.30" height="1.2" fill="#111"/><rect x="295.00" y="239.24" width="5.30" height="1.2" fill="#111"/></g>
<rect x="293.95" y="238.88" width="7.40" height="43.42" fill="none" stroke="#000" stroke-width="2.10"/>
<rect x="311.50" y="246.66" width="1.4" height="5.51" fill="#000"/>
<rect x="309.80" y="245.96" width="4.8" height="1.4" fill="#000"/>
<rect x="308.30" y="252.17" width="7.80" height="30.13" fill="#fff"/>
<clipPath id="c19"><rect x="309.35" y="253.22" width="5.70" height="28.08"/></clipPath><g clip-path="url(#c19)"><rect x="309.35" y="253.22" width="5.70" height="28.08" fill="#1c1c1c"/><rect x="310.05" y="279.97" width="1.28" height="1.16" fill="#fff"/><rect x="313.25" y="279.97" width="1.28" height="1.16" fill="#fff"/><rect x="311.65" y="278.52" width="1.28" height="1.16" fill="#fff"/><rect x="314.85" y="278.52" width="1.28" height="1.16" fill="#fff"/><rect x="310.05" y="277.07" width="1.28" height="1.16" fill="#fff"/><rect x="313.25" y="277.07" width="1.28" height="1.16" fill="#fff"/><rect x="311.65" y="275.62" width="1.28" height="1.16" fill="#fff"/><rect x="314.85" y="275.62" width="1.28" height="1.16" fill="#fff"/><rect x="310.05" y="274.17" width="1.28" height="1.16" fill="#fff"/><rect x="313.25" y="274.17" width="1.28" height="1.16" fill="#fff"/><rect x="311.65" y="272.72" width="1.28" height="1.16" fill="#fff"/><rect x="314.85" y="272.72" width="1.28" height="1.16" fill="#fff"/><rect x="310.05" y="271.27" width="1.28" height="1.16" fill="#fff"/><rect x="313.25" y="271.27" width="1.28" height="1.16" fill="#fff"/><rect x="311.65" y="269.82" width="1.28" height="1.16" fill="#fff"/><rect x="314.85" y="269.82" width="1.28" height="1.16" fill="#fff"/><rect x="310.05" y="268.37" width="1.28" height="1.16" fill="#fff"/><rect x="313.25" y="268.37" width="1.28" height="1.16" fill="#fff"/><rect x="311.65" y="266.92" width="1.28" height="1.16" fill="#fff"/><rect x="314.85" y="266.92" width="1.28" height="1.16" fill="#fff"/><rect x="310.05" y="265.47" width="1.28" height="1.16" fill="#fff"/><rect x="313.25" y="265.47" width="1.28" height="1.16" fill="#fff"/><rect x="311.65" y="264.02" width="1.28" height="1.16" fill="#fff"/><rect x="314.85" y="264.02" width="1.28" height="1.16" fill="#fff"/><rect x="310.05" y="262.57" width="1.28" height="1.16" fill="#fff"/><rect x="313.25" y="262.57" width="1.28" height="1.16" fill="#fff"/><rect x="311.65" y="261.12" width="1.28" height="1.16" fill="#fff"/><rect x="314.85" y="261.12" width="1.28" height="1.16" fill="#fff"/><rect x="310.05" y="259.67" width="1.28" height="1.16" fill="#fff"/><rect x="313.25" y="259.67" width="1.28" height="1.16" fill="#fff"/><rect x="311.65" y="258.22" width="1.28" height="1.16" fill="#fff"/><rect x="314.85" y="258.22" width="1.28" height="1.16" fill="#fff"/><rect x="310.05" y="256.77" width="1.28" height="1.16" fill="#fff"/><rect x="313.25" y="256.77" width="1.28" height="1.16" fill="#fff"/><rect x="311.65" y="255.32" width="1.28" height="1.16" fill="#fff"/><rect x="314.85" y="255.32" width="1.28" height="1.16" fill="#fff"/><rect x="310.05" y="253.87" width="1.28" height="1.16" fill="#fff"/><rect x="313.25" y="253.87" width="1.28" height="1.16" fill="#fff"/><rect x="311.65" y="252.42" width="1.28" height="1.16" fill="#fff"/><rect x="314.85" y="252.42" width="1.28" height="1.16" fill="#fff"/></g>
<rect x="308.30" y="252.17" width="7.80" height="30.13" fill="none" stroke="#000" stroke-width="2.10"/>
<rect x="319.30" y="207.78" width="1.4" height="5.18" fill="#000"/>
<rect x="317.60" y="207.08" width="4.8" height="1.4" fill="#000"/>
<rect x="316.10" y="212.96" width="7.80" height="69.34" fill="#fff"/>
<clipPath id="c20"><rect x="317.15" y="214.01" width="5.70" height="67.29"/></clipPath><g clip-path="url(#c20)"><line x1="316.15" y1="278.35" x2="323.85" y2="284.89"/><line x1="316.15" y1="271.25" x2="323.85" y2="277.79"/><line x1="316.15" y1="264.15" x2="323.85" y2="270.69"/><line x1="316.15" y1="257.05" x2="323.85" y2="263.59"/><line x1="316.15" y1="249.95" x2="323.85" y2="256.49"/><line x1="316.15" y1="242.85" x2="323.85" y2="249.39"/><line x1="316.15" y1="235.75" x2="323.85" y2="242.29"/><line x1="316.15" y1="228.65" x2="323.85" y2="235.19"/><line x1="316.15" y1="221.55" x2="323.85" y2="228.09"/><line x1="316.15" y1="214.45" x2="323.85" y2="220.99"/><line x1="316.15" y1="207.35" x2="323.85" y2="213.89"/></g>
<rect x="316.10" y="212.96" width="7.80" height="69.34" fill="none" stroke="#000" stroke-width="2.10"/>
<rect x="326.50" y="246.01" width="1.4" height="1.94" fill="#000"/>
<rect x="324.80" y="245.31" width="4.8" height="1.4" fill="#000"/>
<rect x="323.90" y="247.96" width="6.60" height="34.34" fill="#fff"/>
<clipPath id="c21"><rect x="324.95" y="249.01" width="4.50" height="32.29"/></clipPath><g clip-path="url(#c21)"><rect x="324.95" y="249.01" width="4.50" height="32.29" fill="#000"/><rect x="325.05" y="279.50" width="2.05" height="2.20" fill="#fff"/><rect x="327.30" y="276.90" width="2.05" height="2.20" fill="#fff"/><rect x="325.05" y="274.30" width="2.05" height="2.20" fill="#fff"/><rect x="327.30" y="271.70" width="2.05" height="2.20" fill="#fff"/><rect x="325.05" y="269.10" width="2.05" height="2.20" fill="#fff"/><rect x="327.30" y="266.50" width="2.05" height="2.20" fill="#fff"/><rect x="325.05" y="263.90" width="2.05" height="2.20" fill="#fff"/><rect x="327.30" y="261.30" width="2.05" height="2.20" fill="#fff"/><rect x="325.05" y="258.70" width="2.05" height="2.20" fill="#fff"/><rect x="327.30" y="256.10" width="2.05" height="2.20" fill="#fff"/><rect x="325.05" y="253.50" width="2.05" height="2.20" fill="#fff"/><rect x="327.30" y="250.90" width="2.05" height="2.20" fill="#fff"/><rect x="325.05" y="248.30" width="2.05" height="2.20" fill="#fff"/></g>
<rect x="323.90" y="247.96" width="6.60" height="34.34" fill="none" stroke="#000" stroke-width="2.10"/>
<rect x="333.50" y="175.70" width="1.4" height="18.47" fill="#000"/>
<rect x="331.80" y="175.00" width="4.8" height="1.4" fill="#000"/>
<rect x="330.50" y="194.17" width="7.40" height="88.13" fill="#fff"/>
<clipPath id="c22"><rect x="331.55" y="195.22" width="5.30" height="86.08"/></clipPath><g clip-path="url(#c22)"><line x1="330.55" y1="284.56" x2="337.85" y2="278.35"/><line x1="330.55" y1="277.45" x2="337.85" y2="271.25"/><line x1="330.55" y1="270.35" x2="337.85" y2="264.15"/><line x1="330.55" y1="263.25" x2="337.85" y2="257.05"/><line x1="330.55" y1="256.15" x2="337.85" y2="249.95"/><line x1="330.55" y1="249.05" x2="337.85" y2="242.85"/><line x1="330.55" y1="241.95" x2="337.85" y2="235.75"/><line x1="330.55" y1="234.85" x2="337.85" y2="228.65"/><line x1="330.55" y1="227.75" x2="337.85" y2="221.55"/><line x1="330.55" y1="220.65" x2="337.85" y2="214.45"/><line x1="330.55" y1="213.55" x2="337.85" y2="207.35"/><line x1="330.55" y1="206.45" x2="337.85" y2="200.25"/><line x1="330.55" y1="199.35" x2="337.85" y2="193.15"/><line x1="330.55" y1="192.25" x2="337.85" y2="186.05"/></g>
<rect x="330.50" y="194.17" width="7.40" height="88.13" fill="none" stroke="#000" stroke-width="2.10"/>
<rect x="340.90" y="158.53" width="1.4" height="11.66" fill="#000"/>
<rect x="339.20" y="157.83" width="4.8" height="1.4" fill="#000"/>
<rect x="337.90" y="170.20" width="7.40" height="112.10" fill="#fff"/>
<clipPath id="c23"><rect x="338.95" y="171.25" width="5.30" height="110.05"/></clipPath><g clip-path="url(#c23)"><rect x="338.95" y="280.40" width="5.30" height="1.2" fill="#111"/><rect x="338.95" y="277.46" width="5.30" height="1.2" fill="#111"/><rect x="338.95" y="274.52" width="5.30" height="1.2" fill="#111"/><rect x="338.95" y="271.58" width="5.30" height="1.2" fill="#111"/><rect x="338.95" y="268.64" width="5.30" height="1.2" fill="#111"/><rect x="338.95" y="265.70" width="5.30" height="1.2" fill="#111"/><rect x="338.95" y="262.76" width="5.30" height="1.2" fill="#111"/><rect x="338.95" y="259.82" width="5.30" height="1.2" fill="#111"/><rect x="338.95" y="256.88" width="5.30" height="1.2" fill="#111"/><rect x="338.95" y="253.94" width="5.30" height="1.2" fill="#111"/><rect x="338.95" y="251.00" width="5.30" height="1.2" fill="#111"/><rect x="338.95" y="248.06" width="5.30" height="1.2" fill="#111"/><rect x="338.95" y="245.12" width="5.30" height="1.2" fill="#111"/><rect x="338.95" y="242.18" width="5.30" height="1.2" fill="#111"/><rect x="338.95" y="239.24" width="5.30" height="1.2" fill="#111"/><rect x="338.95" y="236.30" width="5.30" height="1.2" fill="#111"/><rect x="338.95" y="233.36" width="5.30" height="1.2" fill="#111"/><rect x="338.95" y="230.42" width="5.30" height="1.2" fill="#111"/><rect x="338.95" y="227.48" width="5.30" height="1.2" fill="#111"/><rect x="338.95" y="224.54" width="5.30" height="1.2" fill="#111"/><rect x="338.95" y="221.60" width="5.30" height="1.2" fill="#111"/><rect x="338.95" y="218.66" width="5.30" height="1.2" fill="#111"/><rect x="338.95" y="215.72" width="5.30" height="1.2" fill="#111"/><rect x="338.95" y="212.78" width="5.30" height="1.2" fill="#111"/><rect x="338.95" y="209.84" width="5.30" height="1.2" fill="#111"/><rect x="338.95" y="206.90" width="5.30" height="1.2" fill="#111"/><rect x="338.95" y="203.96" width="5.30" height="1.2" fill="#111"/><rect x="338.95" y="201.02" width="5.30" height="1.2" fill="#111"/><rect x="338.95" y="198.08" width="5.30" height="1.2" fill="#111"/><rect x="338.95" y="195.14" width="5.30" height="1.2" fill="#111"/><rect x="338.95" y="192.20" width="5.30" height="1.2" fill="#111"/><rect x="338.95" y="189.26" width="5.30" height="1.2" fill="#111"/><rect x="338.95" y="186.32" width="5.30" height="1.2" fill="#111"/><rect x="338.95" y="183.38" width="5.30" height="1.2" fill="#111"/><rect x="338.95" y="180.44" width="5.30" height="1.2" fill="#111"/><rect x="338.95" y="177.50" width="5.30" height="1.2" fill="#111"/><rect x="338.95" y="174.56" width="5.30" height="1.2" fill="#111"/><rect x="338.95" y="171.62" width="5.30" height="1.2" fill="#111"/><rect x="338.95" y="168.68" width="5.30" height="1.2" fill="#111"/></g>
<rect x="337.90" y="170.20" width="7.40" height="112.10" fill="none" stroke="#000" stroke-width="2.10"/>
<rect x="355.45" y="263.18" width="1.4" height="4.86" fill="#000"/>
<rect x="353.75" y="262.48" width="4.8" height="1.4" fill="#000"/>
<rect x="352.25" y="268.04" width="7.80" height="14.26" fill="#fff"/>
<clipPath id="c24"><rect x="353.30" y="269.09" width="5.70" height="12.21"/></clipPath><g clip-path="url(#c24)"><rect x="353.30" y="269.09" width="5.70" height="12.21" fill="#1c1c1c"/><rect x="354.00" y="279.97" width="1.28" height="1.16" fill="#fff"/><rect x="357.20" y="279.97" width="1.28" height="1.16" fill="#fff"/><rect x="355.60" y="278.52" width="1.28" height="1.16" fill="#fff"/><rect x="358.80" y="278.52" width="1.28" height="1.16" fill="#fff"/><rect x="354.00" y="277.07" width="1.28" height="1.16" fill="#fff"/><rect x="357.20" y="277.07" width="1.28" height="1.16" fill="#fff"/><rect x="355.60" y="275.62" width="1.28" height="1.16" fill="#fff"/><rect x="358.80" y="275.62" width="1.28" height="1.16" fill="#fff"/><rect x="354.00" y="274.17" width="1.28" height="1.16" fill="#fff"/><rect x="357.20" y="274.17" width="1.28" height="1.16" fill="#fff"/><rect x="355.60" y="272.72" width="1.28" height="1.16" fill="#fff"/><rect x="358.80" y="272.72" width="1.28" height="1.16" fill="#fff"/><rect x="354.00" y="271.27" width="1.28" height="1.16" fill="#fff"/><rect x="357.20" y="271.27" width="1.28" height="1.16" fill="#fff"/><rect x="355.60" y="269.82" width="1.28" height="1.16" fill="#fff"/><rect x="358.80" y="269.82" width="1.28" height="1.16" fill="#fff"/><rect x="354.00" y="268.37" width="1.28" height="1.16" fill="#fff"/><rect x="357.20" y="268.37" width="1.28" height="1.16" fill="#fff"/></g>
<rect x="352.25" y="268.04" width="7.80" height="14.26" fill="none" stroke="#000" stroke-width="2.10"/>
<rect x="399.40" y="264.48" width="1.4" height="4.54" fill="#000"/>
<rect x="397.70" y="263.78" width="4.8" height="1.4" fill="#000"/>
<rect x="396.20" y="269.02" width="7.80" height="13.28" fill="#fff"/>
<clipPath id="c25"><rect x="397.25" y="270.07" width="5.70" height="11.23"/></clipPath><g clip-path="url(#c25)"><rect x="397.25" y="270.07" width="5.70" height="11.23" fill="#1c1c1c"/><rect x="397.95" y="279.97" width="1.28" height="1.16" fill="#fff"/><rect x="401.15" y="279.97" width="1.28" height="1.16" fill="#fff"/><rect x="399.55" y="278.52" width="1.28" height="1.16" fill="#fff"/><rect x="402.75" y="278.52" width="1.28" height="1.16" fill="#fff"/><rect x="397.95" y="277.07" width="1.28" height="1.16" fill="#fff"/><rect x="401.15" y="277.07" width="1.28" height="1.16" fill="#fff"/><rect x="399.55" y="275.62" width="1.28" height="1.16" fill="#fff"/><rect x="402.75" y="275.62" width="1.28" height="1.16" fill="#fff"/><rect x="397.95" y="274.17" width="1.28" height="1.16" fill="#fff"/><rect x="401.15" y="274.17" width="1.28" height="1.16" fill="#fff"/><rect x="399.55" y="272.72" width="1.28" height="1.16" fill="#fff"/><rect x="402.75" y="272.72" width="1.28" height="1.16" fill="#fff"/><rect x="397.95" y="271.27" width="1.28" height="1.16" fill="#fff"/><rect x="401.15" y="271.27" width="1.28" height="1.16" fill="#fff"/><rect x="399.55" y="269.82" width="1.28" height="1.16" fill="#fff"/><rect x="402.75" y="269.82" width="1.28" height="1.16" fill="#fff"/></g>
<rect x="396.20" y="269.02" width="7.80" height="13.28" fill="none" stroke="#000" stroke-width="2.10"/>
<rect x="404.00" y="272.90" width="7.80" height="9.40" fill="#fff"/>
<clipPath id="c26"><rect x="405.05" y="273.95" width="5.70" height="7.35"/></clipPath><g clip-path="url(#c26)"><line x1="404.05" y1="278.35" x2="411.75" y2="284.89"/><line x1="404.05" y1="271.25" x2="411.75" y2="277.79"/><line x1="404.05" y1="264.15" x2="411.75" y2="270.69"/></g>
<rect x="404.00" y="272.90" width="7.80" height="9.40" fill="none" stroke="#000" stroke-width="2.10"/>
<rect x="411.80" y="277.44" width="6.60" height="4.86" fill="#fff"/>
<clipPath id="c27"><rect x="412.85" y="278.49" width="4.50" height="2.81"/></clipPath><g clip-path="url(#c27)"><rect x="412.85" y="278.49" width="4.50" height="2.81" fill="#000"/><rect x="412.95" y="279.50" width="2.05" height="2.20" fill="#fff"/><rect x="415.20" y="276.90" width="2.05" height="2.20" fill="#fff"/></g>
<rect x="411.80" y="277.44" width="6.60" height="4.86" fill="none" stroke="#000" stroke-width="2.10"/>
<rect x="418.40" y="272.26" width="7.40" height="10.04" fill="#fff"/>
<clipPath id="c28"><rect x="419.45" y="273.31" width="5.30" height="7.99"/></clipPath><g clip-path="url(#c28)"><line x1="418.45" y1="284.56" x2="425.75" y2="278.35"/><line x1="418.45" y1="277.45" x2="425.75" y2="271.25"/><line x1="418.45" y1="270.35" x2="425.75" y2="264.15"/></g>
<rect x="418.40" y="272.26" width="7.40" height="10.04" fill="none" stroke="#000" stroke-width="2.10"/>
<rect x="425.80" y="271.28" width="7.40" height="11.02" fill="#fff"/>
<clipPath id="c29"><rect x="426.85" y="272.33" width="5.30" height="8.97"/></clipPath><g clip-path="url(#c29)"><rect x="426.85" y="280.40" width="5.30" height="1.2" fill="#111"/><rect x="426.85" y="277.46" width="5.30" height="1.2" fill="#111"/><rect x="426.85" y="274.52" width="5.30" height="1.2" fill="#111"/><rect x="426.85" y="271.58" width="5.30" height="1.2" fill="#111"/></g>
<rect x="425.80" y="271.28" width="7.40" height="11.02" fill="none" stroke="#000" stroke-width="2.10"/>
<rect x="443.35" y="258.97" width="1.4" height="5.18" fill="#000"/>
<rect x="441.65" y="258.27" width="4.8" height="1.4" fill="#000"/>
<rect x="440.15" y="264.16" width="7.80" height="18.14" fill="#fff"/>
<clipPath id="c30"><rect x="441.20" y="265.21" width="5.70" height="16.09"/></clipPath><g clip-path="url(#c30)"><rect x="441.20" y="265.21" width="5.70" height="16.09" fill="#1c1c1c"/><rect x="441.90" y="279.97" width="1.28" height="1.16" fill="#fff"/><rect x="445.10" y="279.97" width="1.28" height="1.16" fill="#fff"/><rect x="443.50" y="278.52" width="1.28" height="1.16" fill="#fff"/><rect x="446.70" y="278.52" width="1.28" height="1.16" fill="#fff"/><rect x="441.90" y="277.07" width="1.28" height="1.16" fill="#fff"/><rect x="445.10" y="277.07" width="1.28" height="1.16" fill="#fff"/><rect x="443.50" y="275.62" width="1.28" height="1.16" fill="#fff"/><rect x="446.70" y="275.62" width="1.28" height="1.16" fill="#fff"/><rect x="441.90" y="274.17" width="1.28" height="1.16" fill="#fff"/><rect x="445.10" y="274.17" width="1.28" height="1.16" fill="#fff"/><rect x="443.50" y="272.72" width="1.28" height="1.16" fill="#fff"/><rect x="446.70" y="272.72" width="1.28" height="1.16" fill="#fff"/><rect x="441.90" y="271.27" width="1.28" height="1.16" fill="#fff"/><rect x="445.10" y="271.27" width="1.28" height="1.16" fill="#fff"/><rect x="443.50" y="269.82" width="1.28" height="1.16" fill="#fff"/><rect x="446.70" y="269.82" width="1.28" height="1.16" fill="#fff"/><rect x="441.90" y="268.37" width="1.28" height="1.16" fill="#fff"/><rect x="445.10" y="268.37" width="1.28" height="1.16" fill="#fff"/><rect x="443.50" y="266.92" width="1.28" height="1.16" fill="#fff"/><rect x="446.70" y="266.92" width="1.28" height="1.16" fill="#fff"/><rect x="441.90" y="265.47" width="1.28" height="1.16" fill="#fff"/><rect x="445.10" y="265.47" width="1.28" height="1.16" fill="#fff"/><rect x="443.50" y="264.02" width="1.28" height="1.16" fill="#fff"/><rect x="446.70" y="264.02" width="1.28" height="1.16" fill="#fff"/></g>
<rect x="440.15" y="264.16" width="7.80" height="18.14" fill="none" stroke="#000" stroke-width="2.10"/>
<rect x="447.95" y="251.84" width="7.80" height="30.46" fill="#fff"/>
<clipPath id="c31"><rect x="449.00" y="252.89" width="5.70" height="28.41"/></clipPath><g clip-path="url(#c31)"><line x1="448.00" y1="278.35" x2="455.70" y2="284.89"/><line x1="448.00" y1="271.25" x2="455.70" y2="277.79"/><line x1="448.00" y1="264.15" x2="455.70" y2="270.69"/><line x1="448.00" y1="257.05" x2="455.70" y2="263.59"/><line x1="448.00" y1="249.95" x2="455.70" y2="256.49"/><line x1="448.00" y1="242.85" x2="455.70" y2="249.39"/></g>
<rect x="447.95" y="251.84" width="7.80" height="30.46" fill="none" stroke="#000" stroke-width="2.10"/>
<rect x="455.75" y="268.37" width="6.60" height="13.93" fill="#fff"/>
<clipPath id="c32"><rect x="456.80" y="269.42" width="4.50" height="11.88"/></clipPath><g clip-path="url(#c32)"><rect x="456.80" y="269.42" width="4.50" height="11.88" fill="#000"/><rect x="456.90" y="279.50" width="2.05" height="2.20" fill="#fff"/><rect x="459.15" y="276.90" width="2.05" height="2.20" fill="#fff"/><rect x="456.90" y="274.30" width="2.05" height="2.20" fill="#fff"/><rect x="459.15" y="271.70" width="2.05" height="2.20" fill="#fff"/><rect x="456.90" y="269.10" width="2.05" height="2.20" fill="#fff"/></g>
<rect x="455.75" y="268.37" width="6.60" height="13.93" fill="none" stroke="#000" stroke-width="2.10"/>
<rect x="462.35" y="240.18" width="7.40" height="42.12" fill="#fff"/>
<clipPath id="c33"><rect x="463.40" y="241.23" width="5.30" height="40.07"/></clipPath><g clip-path="url(#c33)"><line x1="462.40" y1="284.56" x2="469.70" y2="278.35"/><line x1="462.40" y1="277.45" x2="469.70" y2="271.25"/><line x1="462.40" y1="270.35" x2="469.70" y2="264.15"/><line x1="462.40" y1="263.25" x2="469.70" y2="257.05"/><line x1="462.40" y1="256.15" x2="469.70" y2="249.95"/><line x1="462.40" y1="249.05" x2="469.70" y2="242.85"/><line x1="462.40" y1="241.95" x2="469.70" y2="235.75"/></g>
<rect x="462.35" y="240.18" width="7.40" height="42.12" fill="none" stroke="#000" stroke-width="2.10"/>
<rect x="472.75" y="224.30" width="1.4" height="1.62" fill="#000"/>
<rect x="471.05" y="223.60" width="4.8" height="1.4" fill="#000"/>
<rect x="469.75" y="225.92" width="7.40" height="56.38" fill="#fff"/>
<clipPath id="c34"><rect x="470.80" y="226.97" width="5.30" height="54.33"/></clipPath><g clip-path="url(#c34)"><rect x="470.80" y="280.40" width="5.30" height="1.2" fill="#111"/><rect x="470.80" y="277.46" width="5.30" height="1.2" fill="#111"/><rect x="470.80" y="274.52" width="5.30" height="1.2" fill="#111"/><rect x="470.80" y="271.58" width="5.30" height="1.2" fill="#111"/><rect x="470.80" y="268.64" width="5.30" height="1.2" fill="#111"/><rect x="470.80" y="265.70" width="5.30" height="1.2" fill="#111"/><rect x="470.80" y="262.76" width="5.30" height="1.2" fill="#111"/><rect x="470.80" y="259.82" width="5.30" height="1.2" fill="#111"/><rect x="470.80" y="256.88" width="5.30" height="1.2" fill="#111"/><rect x="470.80" y="253.94" width="5.30" height="1.2" fill="#111"/><rect x="470.80" y="251.00" width="5.30" height="1.2" fill="#111"/><rect x="470.80" y="248.06" width="5.30" height="1.2" fill="#111"/><rect x="470.80" y="245.12" width="5.30" height="1.2" fill="#111"/><rect x="470.80" y="242.18" width="5.30" height="1.2" fill="#111"/><rect x="470.80" y="239.24" width="5.30" height="1.2" fill="#111"/><rect x="470.80" y="236.30" width="5.30" height="1.2" fill="#111"/><rect x="470.80" y="233.36" width="5.30" height="1.2" fill="#111"/><rect x="470.80" y="230.42" width="5.30" height="1.2" fill="#111"/><rect x="470.80" y="227.48" width="5.30" height="1.2" fill="#111"/><rect x="470.80" y="224.54" width="5.30" height="1.2" fill="#111"/></g>
<rect x="469.75" y="225.92" width="7.40" height="56.38" fill="none" stroke="#000" stroke-width="2.10"/>
<rect x="487.30" y="261.24" width="1.4" height="6.48" fill="#000"/>
<rect x="485.60" y="260.54" width="4.8" height="1.4" fill="#000"/>
<rect x="484.10" y="267.72" width="7.80" height="14.58" fill="#fff"/>
<clipPath id="c35"><rect x="485.15" y="268.77" width="5.70" height="12.53"/></clipPath><g clip-path="url(#c35)"><rect x="485.15" y="268.77" width="5.70" height="12.53" fill="#1c1c1c"/><rect x="485.85" y="279.97" width="1.28" height="1.16" fill="#fff"/><rect x="489.05" y="279.97" width="1.28" height="1.16" fill="#fff"/><rect x="487.45" y="278.52" width="1.28" height="1.16" fill="#fff"/><rect x="490.65" y="278.52" width="1.28" height="1.16" fill="#fff"/><rect x="485.85" y="277.07" width="1.28" height="1.16" fill="#fff"/><rect x="489.05" y="277.07" width="1.28" height="1.16" fill="#fff"/><rect x="487.45" y="275.62" width="1.28" height="1.16" fill="#fff"/><rect x="490.65" y="275.62" width="1.28" height="1.16" fill="#fff"/><rect x="485.85" y="274.17" width="1.28" height="1.16" fill="#fff"/><rect x="489.05" y="274.17" width="1.28" height="1.16" fill="#fff"/><rect x="487.45" y="272.72" width="1.28" height="1.16" fill="#fff"/><rect x="490.65" y="272.72" width="1.28" height="1.16" fill="#fff"/><rect x="485.85" y="271.27" width="1.28" height="1.16" fill="#fff"/><rect x="489.05" y="271.27" width="1.28" height="1.16" fill="#fff"/><rect x="487.45" y="269.82" width="1.28" height="1.16" fill="#fff"/><rect x="490.65" y="269.82" width="1.28" height="1.16" fill="#fff"/><rect x="485.85" y="268.37" width="1.28" height="1.16" fill="#fff"/><rect x="489.05" y="268.37" width="1.28" height="1.16" fill="#fff"/></g>
<rect x="484.10" y="267.72" width="7.80" height="14.58" fill="none" stroke="#000" stroke-width="2.10"/>
<rect x="528.05" y="275.17" width="7.80" height="7.13" fill="#fff"/>
<clipPath id="c36"><rect x="529.10" y="276.22" width="5.70" height="5.08"/></clipPath><g clip-path="url(#c36)"><rect x="529.10" y="276.22" width="5.70" height="5.08" fill="#1c1c1c"/><rect x="529.80" y="279.97" width="1.28" height="1.16" fill="#fff"/><rect x="533.00" y="279.97" width="1.28" height="1.16" fill="#fff"/><rect x="531.40" y="278.52" width="1.28" height="1.16" fill="#fff"/><rect x="534.60" y="278.52" width="1.28" height="1.16" fill="#fff"/><rect x="529.80" y="277.07" width="1.28" height="1.16" fill="#fff"/><rect x="533.00" y="277.07" width="1.28" height="1.16" fill="#fff"/><rect x="531.40" y="275.62" width="1.28" height="1.16" fill="#fff"/><rect x="534.60" y="275.62" width="1.28" height="1.16" fill="#fff"/></g>
<rect x="528.05" y="275.17" width="7.80" height="7.13" fill="none" stroke="#000" stroke-width="2.10"/>
<rect x="535.85" y="273.55" width="7.80" height="8.75" fill="#fff"/>
<clipPath id="c37"><rect x="536.90" y="274.60" width="5.70" height="6.70"/></clipPath><g clip-path="url(#c37)"><line x1="535.90" y1="278.35" x2="543.60" y2="284.90"/><line x1="535.90" y1="271.25" x2="543.60" y2="277.80"/><line x1="535.90" y1="264.15" x2="543.60" y2="270.70"/></g>
<rect x="535.85" y="273.55" width="7.80" height="8.75" fill="none" stroke="#000" stroke-width="2.10"/>
<rect x="543.65" y="275.82" width="6.60" height="6.48" fill="#fff"/>
<clipPath id="c38"><rect x="544.70" y="276.87" width="4.50" height="4.43"/></clipPath><g clip-path="url(#c38)"><rect x="544.70" y="276.87" width="4.50" height="4.43" fill="#000"/><rect x="544.80" y="279.50" width="2.05" height="2.20" fill="#fff"/><rect x="547.05" y="276.90" width="2.05" height="2.20" fill="#fff"/></g>
<rect x="543.65" y="275.82" width="6.60" height="6.48" fill="none" stroke="#000" stroke-width="2.10"/>
<rect x="553.25" y="269.99" width="1.4" height="4.21" fill="#000"/>
<rect x="551.55" y="269.29" width="4.8" height="1.4" fill="#000"/>
<rect x="550.25" y="274.20" width="7.40" height="8.10" fill="#fff"/>
<clipPath id="c39"><rect x="551.30" y="275.25" width="5.30" height="6.05"/></clipPath><g clip-path="url(#c39)"><line x1="550.30" y1="284.56" x2="557.60" y2="278.35"/><line x1="550.30" y1="277.46" x2="557.60" y2="271.25"/><line x1="550.30" y1="270.36" x2="557.60" y2="264.15"/></g>
<rect x="550.25" y="274.20" width="7.40" height="8.10" fill="none" stroke="#000" stroke-width="2.10"/>
<rect x="557.65" y="273.55" width="7.40" height="8.75" fill="#fff"/>
<clipPath id="c40"><rect x="558.70" y="274.60" width="5.30" height="6.70"/></clipPath><g clip-path="url(#c40)"><rect x="558.70" y="280.40" width="5.30" height="1.2" fill="#111"/><rect x="558.70" y="277.46" width="5.30" height="1.2" fill="#111"/><rect x="558.70" y="274.52" width="5.30" height="1.2" fill="#111"/><rect x="558.70" y="271.58" width="5.30" height="1.2" fill="#111"/></g>
<rect x="557.65" y="273.55" width="7.40" height="8.75" fill="none" stroke="#000" stroke-width="2.10"/>
<rect x="575.20" y="243.10" width="1.4" height="5.51" fill="#000"/>
<rect x="573.50" y="242.40" width="4.8" height="1.4" fill="#000"/>
<rect x="572.00" y="248.60" width="7.80" height="33.70" fill="#fff"/>
<clipPath id="c41"><rect x="573.05" y="249.65" width="5.70" height="31.65"/></clipPath><g clip-path="url(#c41)"><rect x="573.05" y="249.65" width="5.70" height="31.65" fill="#1c1c1c"/><rect x="573.75" y="279.97" width="1.28" height="1.16" fill="#fff"/><rect x="576.95" y="279.97" width="1.28" height="1.16" fill="#fff"/><rect x="575.35" y="278.52" width="1.28" height="1.16" fill="#fff"/><rect x="578.55" y="278.52" width="1.28" height="1.16" fill="#fff"/><rect x="573.75" y="277.07" width="1.28" height="1.16" fill="#fff"/><rect x="576.95" y="277.07" width="1.28" height="1.16" fill="#fff"/><rect x="575.35" y="275.62" width="1.28" height="1.16" fill="#fff"/><rect x="578.55" y="275.62" width="1.28" height="1.16" fill="#fff"/><rect x="573.75" y="274.17" width="1.28" height="1.16" fill="#fff"/><rect x="576.95" y="274.17" width="1.28" height="1.16" fill="#fff"/><rect x="575.35" y="272.72" width="1.28" height="1.16" fill="#fff"/><rect x="578.55" y="272.72" width="1.28" height="1.16" fill="#fff"/><rect x="573.75" y="271.27" width="1.28" height="1.16" fill="#fff"/><rect x="576.95" y="271.27" width="1.28" height="1.16" fill="#fff"/><rect x="575.35" y="269.82" width="1.28" height="1.16" fill="#fff"/><rect x="578.55" y="269.82" width="1.28" height="1.16" fill="#fff"/><rect x="573.75" y="268.37" width="1.28" height="1.16" fill="#fff"/><rect x="576.95" y="268.37" width="1.28" height="1.16" fill="#fff"/><rect x="575.35" y="266.92" width="1.28" height="1.16" fill="#fff"/><rect x="578.55" y="266.92" width="1.28" height="1.16" fill="#fff"/><rect x="573.75" y="265.47" width="1.28" height="1.16" fill="#fff"/><rect x="576.95" y="265.47" width="1.28" height="1.16" fill="#fff"/><rect x="575.35" y="264.02" width="1.28" height="1.16" fill="#fff"/><rect x="578.55" y="264.02" width="1.28" height="1.16" fill="#fff"/><rect x="573.75" y="262.57" width="1.28" height="1.16" fill="#fff"/><rect x="576.95" y="262.57" width="1.28" height="1.16" fill="#fff"/><rect x="575.35" y="261.12" width="1.28" height="1.16" fill="#fff"/><rect x="578.55" y="261.12" width="1.28" height="1.16" fill="#fff"/><rect x="573.75" y="259.67" width="1.28" height="1.16" fill="#fff"/><rect x="576.95" y="259.67" width="1.28" height="1.16" fill="#fff"/><rect x="575.35" y="258.22" width="1.28" height="1.16" fill="#fff"/><rect x="578.55" y="258.22" width="1.28" height="1.16" fill="#fff"/><rect x="573.75" y="256.77" width="1.28" height="1.16" fill="#fff"/><rect x="576.95" y="256.77" width="1.28" height="1.16" fill="#fff"/><rect x="575.35" y="255.32" width="1.28" height="1.16" fill="#fff"/><rect x="578.55" y="255.32" width="1.28" height="1.16" fill="#fff"/><rect x="573.75" y="253.87" width="1.28" height="1.16" fill="#fff"/><rect x="576.95" y="253.87" width="1.28" height="1.16" fill="#fff"/><rect x="575.35" y="252.42" width="1.28" height="1.16" fill="#fff"/><rect x="578.55" y="252.42" width="1.28" height="1.16" fill="#fff"/><rect x="573.75" y="250.97" width="1.28" height="1.16" fill="#fff"/><rect x="576.95" y="250.97" width="1.28" height="1.16" fill="#fff"/><rect x="575.35" y="249.52" width="1.28" height="1.16" fill="#fff"/><rect x="578.55" y="249.52" width="1.28" height="1.16" fill="#fff"/></g>
<rect x="572.00" y="248.60" width="7.80" height="33.70" fill="none" stroke="#000" stroke-width="2.10"/>
<rect x="583.00" y="214.58" width="1.4" height="9.07" fill="#000"/>
<rect x="581.30" y="213.88" width="4.8" height="1.4" fill="#000"/>
<rect x="579.80" y="223.66" width="7.80" height="58.64" fill="#fff"/>
<clipPath id="c42"><rect x="580.85" y="224.71" width="5.70" height="56.59"/></clipPath><g clip-path="url(#c42)"><line x1="579.85" y1="278.35" x2="587.55" y2="284.90"/><line x1="579.85" y1="271.25" x2="587.55" y2="277.80"/><line x1="579.85" y1="264.15" x2="587.55" y2="270.70"/><line x1="579.85" y1="257.05" x2="587.55" y2="263.60"/><line x1="579.85" y1="249.95" x2="587.55" y2="256.50"/><line x1="579.85" y1="242.85" x2="587.55" y2="249.40"/><line x1="579.85" y1="235.75" x2="587.55" y2="242.30"/><line x1="579.85" y1="228.65" x2="587.55" y2="235.20"/><line x1="579.85" y1="221.55" x2="587.55" y2="228.10"/><line x1="579.85" y1="214.45" x2="587.55" y2="221.00"/></g>
<rect x="579.80" y="223.66" width="7.80" height="58.64" fill="none" stroke="#000" stroke-width="2.10"/>
<rect x="590.20" y="238.24" width="1.4" height="9.07" fill="#000"/>
<rect x="588.50" y="237.54" width="4.8" height="1.4" fill="#000"/>
<rect x="587.60" y="247.31" width="6.60" height="34.99" fill="#fff"/>
<clipPath id="c43"><rect x="588.65" y="248.36" width="4.50" height="32.94"/></clipPath><g clip-path="url(#c43)"><rect x="588.65" y="248.36" width="4.50" height="32.94" fill="#000"/><rect x="588.75" y="279.50" width="2.05" height="2.20" fill="#fff"/><rect x="591.00" y="276.90" width="2.05" height="2.20" fill="#fff"/><rect x="588.75" y="274.30" width="2.05" height="2.20" fill="#fff"/><rect x="591.00" y="271.70" width="2.05" height="2.20" fill="#fff"/><rect x="588.75" y="269.10" width="2.05" height="2.20" fill="#fff"/><rect x="591.00" y="266.50" width="2.05" height="2.20" fill="#fff"/><rect x="588.75" y="263.90" width="2.05" height="2.20" fill="#fff"/><rect x="591.00" y="261.30" width="2.05" height="2.20" fill="#fff"/><rect x="588.75" y="258.70" width="2.05" height="2.20" fill="#fff"/><rect x="591.00" y="256.10" width="2.05" height="2.20" fill="#fff"/><rect x="588.75" y="253.50" width="2.05" height="2.20" fill="#fff"/><rect x="591.00" y="250.90" width="2.05" height="2.20" fill="#fff"/><rect x="588.75" y="248.30" width="2.05" height="2.20" fill="#fff"/></g>
<rect x="587.60" y="247.31" width="6.60" height="34.99" fill="none" stroke="#000" stroke-width="2.10"/>
<rect x="597.20" y="193.20" width="1.4" height="19.44" fill="#000"/>
<rect x="595.50" y="192.50" width="4.8" height="1.4" fill="#000"/>
<rect x="594.20" y="212.64" width="7.40" height="69.66" fill="#fff"/>
<clipPath id="c44"><rect x="595.25" y="213.69" width="5.30" height="67.61"/></clipPath><g clip-path="url(#c44)"><line x1="594.25" y1="284.56" x2="601.55" y2="278.35"/><line x1="594.25" y1="277.46" x2="601.55" y2="271.25"/><line x1="594.25" y1="270.36" x2="601.55" y2="264.15"/><line x1="594.25" y1="263.25" x2="601.55" y2="257.05"/><line x1="594.25" y1="256.15" x2="601.55" y2="249.95"/><line x1="594.25" y1="249.05" x2="601.55" y2="242.85"/><line x1="594.25" y1="241.95" x2="601.55" y2="235.75"/><line x1="594.25" y1="234.85" x2="601.55" y2="228.65"/><line x1="594.25" y1="227.75" x2="601.55" y2="221.55"/><line x1="594.25" y1="220.66" x2="601.55" y2="214.45"/><line x1="594.25" y1="213.56" x2="601.55" y2="207.35"/></g>
<rect x="594.20" y="212.64" width="7.40" height="69.66" fill="none" stroke="#000" stroke-width="2.10"/>
<rect x="604.60" y="185.10" width="1.4" height="7.45" fill="#000"/>
<rect x="602.90" y="184.40" width="4.8" height="1.4" fill="#000"/>
<rect x="601.60" y="192.55" width="7.40" height="89.75" fill="#fff"/>
<clipPath id="c45"><rect x="602.65" y="193.60" width="5.30" height="87.70"/></clipPath><g clip-path="url(#c45)"><rect x="602.65" y="280.40" width="5.30" height="1.2" fill="#111"/><rect x="602.65" y="277.46" width="5.30" height="1.2" fill="#111"/><rect x="602.65" y="274.52" width="5.30" height="1.2" fill="#111"/><rect x="602.65" y="271.58" width="5.30" height="1.2" fill="#111"/><rect x="602.65" y="268.64" width="5.30" height="1.2" fill="#111"/><rect x="602.65" y="265.70" width="5.30" height="1.2" fill="#111"/><rect x="602.65" y="262.76" width="5.30" height="1.2" fill="#111"/><rect x="602.65" y="259.82" width="5.30" height="1.2" fill="#111"/><rect x="602.65" y="256.88" width="5.30" height="1.2" fill="#111"/><rect x="602.65" y="253.94" width="5.30" height="1.2" fill="#111"/><rect x="602.65" y="251.00" width="5.30" height="1.2" fill="#111"/><rect x="602.65" y="248.06" width="5.30" height="1.2" fill="#111"/><rect x="602.65" y="245.12" width="5.30" height="1.2" fill="#111"/><rect x="602.65" y="242.18" width="5.30" height="1.2" fill="#111"/><rect x="602.65" y="239.24" width="5.30" height="1.2" fill="#111"/><rect x="602.65" y="236.30" width="5.30" height="1.2" fill="#111"/><rect x="602.65" y="233.36" width="5.30" height="1.2" fill="#111"/><rect x="602.65" y="230.42" width="5.30" height="1.2" fill="#111"/><rect x="602.65" y="227.48" width="5.30" height="1.2" fill="#111"/><rect x="602.65" y="224.54" width="5.30" height="1.2" fill="#111"/><rect x="602.65" y="221.60" width="5.30" height="1.2" fill="#111"/><rect x="602.65" y="218.66" width="5.30" height="1.2" fill="#111"/><rect x="602.65" y="215.72" width="5.30" height="1.2" fill="#111"/><rect x="602.65" y="212.78" width="5.30" height="1.2" fill="#111"/><rect x="602.65" y="209.84" width="5.30" height="1.2" fill="#111"/><rect x="602.65" y="206.90" width="5.30" height="1.2" fill="#111"/><rect x="602.65" y="203.96" width="5.30" height="1.2" fill="#111"/><rect x="602.65" y="201.02" width="5.30" height="1.2" fill="#111"/><rect x="602.65" y="198.08" width="5.30" height="1.2" fill="#111"/><rect x="602.65" y="195.14" width="5.30" height="1.2" fill="#111"/><rect x="602.65" y="192.20" width="5.30" height="1.2" fill="#111"/></g>
<rect x="601.60" y="192.55" width="7.40" height="89.75" fill="none" stroke="#000" stroke-width="2.10"/>
</g>
<rect x="40" y="22" width="2.2" height="261.6" fill="#000"/>
<rect x="40" y="281.3" width="582" height="2.5" fill="#000"/>
<rect x="35.2" y="281.30" width="5" height="2" fill="#000"/>
<text class="b" font-size="10.2" text-anchor="end" transform="translate(34.0,285.80) scale(1.08,1)">0</text>
<rect x="35.2" y="248.90" width="5" height="2" fill="#000"/>
<text class="b" font-size="10.2" text-anchor="end" transform="translate(34.0,253.40) scale(1.08,1)">10</text>
<rect x="35.2" y="216.50" width="5" height="2" fill="#000"/>
<text class="b" font-size="10.2" text-anchor="end" transform="translate(34.0,221.00) scale(1.08,1)">20</text>
<rect x="35.2" y="184.10" width="5" height="2" fill="#000"/>
<text class="b" font-size="10.2" text-anchor="end" transform="translate(34.0,188.60) scale(1.08,1)">30</text>
<rect x="35.2" y="151.70" width="5" height="2" fill="#000"/>
<text class="b" font-size="10.2" text-anchor="end" transform="translate(34.0,156.20) scale(1.08,1)">40</text>
<rect x="35.2" y="119.30" width="5" height="2" fill="#000"/>
<text class="b" font-size="10.2" text-anchor="end" transform="translate(34.0,123.80) scale(1.08,1)">50</text>
<rect x="35.2" y="86.90" width="5" height="2" fill="#000"/>
<text class="b" font-size="10.2" text-anchor="end" transform="translate(34.0,91.40) scale(1.08,1)">60</text>
<rect x="35.2" y="54.50" width="5" height="2" fill="#000"/>
<text class="b" font-size="10.2" text-anchor="end" transform="translate(34.0,59.00) scale(1.08,1)">70</text>
<rect x="35.2" y="22.10" width="5" height="2" fill="#000"/>
<text class="b" font-size="10.2" text-anchor="end" transform="translate(34.0,26.60) scale(1.08,1)">80</text>
<rect x="62.15" y="282" width="1.9" height="5.6" fill="#000"/>
<text class="b" font-size="12" text-anchor="end" transform="translate(67.20,291.2) rotate(-90) scale(0.883,1)">Control young</text>
<rect x="106.10" y="282" width="1.9" height="5.6" fill="#000"/>
<text class="b" font-size="12" text-anchor="end" transform="translate(111.15,291.2) rotate(-90) scale(0.883,1)">Young+TRF</text>
<rect x="150.05" y="282" width="1.9" height="5.6" fill="#000"/>
<text class="b" font-size="12" text-anchor="end" transform="translate(155.10,291.2) rotate(-90) scale(0.883,1)">Control senescent</text>
<rect x="194.00" y="282" width="1.9" height="5.6" fill="#000"/>
<text class="b" font-size="12" text-anchor="end" transform="translate(199.05,291.2) rotate(-90) scale(0.883,1)">Senescent+TRF</text>
<rect x="237.95" y="282" width="1.9" height="5.6" fill="#000"/>
<text class="b" font-size="12" text-anchor="end" transform="translate(243.00,291.2) rotate(-90) scale(0.883,1)">Control young+siRNA SIRT1</text>
<rect x="281.90" y="282" width="1.9" height="5.6" fill="#000"/>
<text class="b" font-size="12" text-anchor="end" transform="translate(286.95,291.2) rotate(-90) scale(0.883,1)">Young Pre TRF+siRNA SIRT1</text>
<rect x="325.85" y="282" width="1.9" height="5.6" fill="#000"/>
<text class="b" font-size="12" text-anchor="end" transform="translate(330.90,291.2) rotate(-90) scale(0.883,1)">Young+siRNA SIRT1+TRF</text>
<rect x="369.80" y="282" width="1.9" height="5.6" fill="#000"/>
<text class="b" font-size="12" text-anchor="end" transform="translate(374.85,291.2) rotate(-90) scale(0.883,1)">Control young+Sirtinol</text>
<rect x="413.75" y="282" width="1.9" height="5.6" fill="#000"/>
<text class="b" font-size="12" text-anchor="end" transform="translate(418.80,291.2) rotate(-90) scale(0.883,1)">Young+Pre TRF+Sirtinol</text>
<rect x="457.70" y="282" width="1.9" height="5.6" fill="#000"/>
<text class="b" font-size="12" text-anchor="end" transform="translate(462.75,291.2) rotate(-90) scale(0.883,1)">Young+Sirtinol+ TRF</text>
<rect x="501.65" y="282" width="1.9" height="5.6" fill="#000"/>
<text class="b" font-size="12" text-anchor="end" transform="translate(506.70,291.2) rotate(-90) scale(0.883,1)">Young+siRNA SIRT1+Sirtinol</text>
<rect x="545.60" y="282" width="1.9" height="5.6" fill="#000"/>
<text class="b" font-size="12" text-anchor="end" transform="translate(550.65,291.2) rotate(-90) scale(0.883,1)">Young+Pre TRF+siRNA SIRT1+Sirtinol</text>
<rect x="589.55" y="282" width="1.9" height="5.6" fill="#000"/>
<text class="b" font-size="12" text-anchor="end" transform="translate(594.60,291.2) rotate(-90) scale(0.883,1)">Young+siRNA SIRT1+Sirtinol+Pos TRF</text>
<text class="b" font-size="13" text-anchor="middle" transform="translate(12.2,150.9) rotate(-90) scale(0.908,1)">Vitamin E concentration (ng/mL)</text>
<text class="l" font-size="9.5" text-anchor="middle" transform="translate(99.00,232.50) scale(1.12,1)">a</text>
<text class="l" font-size="9.5" text-anchor="middle" transform="translate(105.60,237.40) scale(1.12,1)">a</text>
<text class="l" font-size="9.5" text-anchor="middle" transform="translate(112.00,208.30) scale(1.12,1)">a</text>
<text class="l" font-size="9.5" text-anchor="middle" transform="translate(121.20,201.20) scale(1.12,1)">a</text>
<text class="l" font-size="9.5" text-anchor="middle" transform="translate(134.70,188.00) scale(1.12,1)">a</text>
<text class="l" font-size="9.5" text-anchor="middle" transform="translate(177.80,195.30) scale(1.12,1)">a</text>
<text class="l" font-size="9.5" text-anchor="middle" transform="translate(177.80,206.45) scale(1.12,1)">b</text>
<text class="l" font-size="9.5" text-anchor="middle" transform="translate(185.80,119.10) scale(1.12,1)">a</text>
<text class="l" font-size="9.5" text-anchor="middle" transform="translate(185.80,130.25) scale(1.12,1)">b</text>
<text class="l" font-size="9.5" text-anchor="middle" transform="translate(185.80,141.40) scale(1.12,1)">c</text>
<text class="l" font-size="9.5" text-anchor="middle" transform="translate(193.50,144.10) scale(1.12,1)">a</text>
<text class="l" font-size="9.5" text-anchor="middle" transform="translate(193.50,155.25) scale(1.12,1)">b</text>
<text class="l" font-size="9.5" text-anchor="middle" transform="translate(193.50,166.40) scale(1.12,1)">c</text>
<text class="l" font-size="9.5" text-anchor="middle" transform="translate(201.50,70.30) scale(1.12,1)">a</text>
<text class="l" font-size="9.5" text-anchor="middle" transform="translate(201.50,81.45) scale(1.12,1)">c</text>
<text class="l" font-size="9.5" text-anchor="middle" transform="translate(209.80,70.30) scale(1.12,1)">a</text>
<text class="l" font-size="9.5" text-anchor="middle" transform="translate(209.80,81.45) scale(1.12,1)">c</text>
<text class="l" font-size="9.5" text-anchor="middle" transform="translate(275.70,195.50) scale(1.12,1)">a</text>
<text class="l" font-size="9.5" text-anchor="middle" transform="translate(275.70,206.65) scale(1.12,1)">c</text>
<text class="l" font-size="9.5" text-anchor="middle" transform="translate(275.70,217.80) scale(1.12,1)">d</text>
<text class="l" font-size="9.5" text-anchor="middle" transform="translate(275.70,228.95) scale(1.12,1)">e</text>
<text class="l" font-size="9.5" text-anchor="middle" transform="translate(282.70,205.30) scale(1.12,1)">a</text>
<text class="l" font-size="9.5" text-anchor="middle" transform="translate(282.70,216.45) scale(1.12,1)">c</text>
<text class="l" font-size="9.5" text-anchor="middle" transform="translate(282.70,227.60) scale(1.12,1)">d</text>
<text class="l" font-size="9.5" text-anchor="middle" transform="translate(282.70,238.75) scale(1.12,1)">e</text>
<text class="l" font-size="9.5" text-anchor="middle" transform="translate(290.10,173.70) scale(1.12,1)">a</text>
<text class="l" font-size="9.5" text-anchor="middle" transform="translate(290.10,184.85) scale(1.12,1)">c</text>
<text class="l" font-size="9.5" text-anchor="middle" transform="translate(290.10,196.00) scale(1.12,1)">d</text>
<text class="l" font-size="9.5" text-anchor="middle" transform="translate(290.10,207.15) scale(1.12,1)">e</text>
<text class="l" font-size="9.5" text-anchor="middle" transform="translate(298.30,186.00) scale(1.12,1)">a</text>
<text class="l" font-size="9.5" text-anchor="middle" transform="translate(298.30,197.15) scale(1.12,1)">c</text>
<text class="l" font-size="9.5" text-anchor="middle" transform="translate(298.30,208.30) scale(1.12,1)">d</text>
<text class="l" font-size="9.5" text-anchor="middle" transform="translate(298.30,219.45) scale(1.12,1)">e</text>
<text class="l" font-size="9.5" text-anchor="middle" transform="translate(319.30,154.10) scale(1.12,1)">a</text>
<text class="l" font-size="9.5" text-anchor="middle" transform="translate(319.30,165.25) scale(1.12,1)">b</text>
<text class="l" font-size="9.5" text-anchor="middle" transform="translate(319.30,176.40) scale(1.12,1)">c</text>
<text class="l" font-size="9.5" text-anchor="middle" transform="translate(319.30,187.55) scale(1.12,1)">d</text>
<text class="l" font-size="9.5" text-anchor="middle" transform="translate(319.30,198.70) scale(1.12,1)">e</text>
<text class="l" font-size="9.5" text-anchor="middle" transform="translate(326.20,162.40) scale(1.12,1)">a</text>
<text class="l" font-size="9.5" text-anchor="middle" transform="translate(326.20,173.55) scale(1.12,1)">b</text>
<text class="l" font-size="9.5" text-anchor="middle" transform="translate(326.20,184.70) scale(1.12,1)">c</text>
<text class="l" font-size="9.5" text-anchor="middle" transform="translate(326.20,195.85) scale(1.12,1)">d</text>
<text class="l" font-size="9.5" text-anchor="middle" transform="translate(326.20,207.00) scale(1.12,1)">e</text>
<text class="l" font-size="9.5" text-anchor="middle" transform="translate(333.50,133.20) scale(1.12,1)">a</text>
<text class="l" font-size="9.5" text-anchor="middle" transform="translate(333.50,144.35) scale(1.12,1)">b</text>
<text class="l" font-size="9.5" text-anchor="middle" transform="translate(333.50,155.50) scale(1.12,1)">c</text>
<text class="l" font-size="9.5" text-anchor="middle" transform="translate(333.50,166.65) scale(1.12,1)">e</text>
<text class="l" font-size="9.5" text-anchor="middle" transform="translate(341.40,110.40) scale(1.12,1)">a</text>
<text class="l" font-size="9.5" text-anchor="middle" transform="translate(341.40,121.55) scale(1.12,1)">b</text>
<text class="l" font-size="9.5" text-anchor="middle" transform="translate(341.40,132.70) scale(1.12,1)">c</text>
<text class="l" font-size="9.5" text-anchor="middle" transform="translate(341.40,143.85) scale(1.12,1)">e</text>
<text class="l" font-size="9.5" text-anchor="middle" transform="translate(407.50,209.60) scale(1.12,1)">a</text>
<text class="l" font-size="9.5" text-anchor="middle" transform="translate(407.50,220.75) scale(1.12,1)">b</text>
<text class="l" font-size="9.5" text-anchor="middle" transform="translate(407.50,231.90) scale(1.12,1)">c</text>
<text class="l" font-size="9.5" text-anchor="middle" transform="translate(407.50,243.05) scale(1.12,1)">d</text>
<text class="l" font-size="9.5" text-anchor="middle" transform="translate(407.50,254.20) scale(1.12,1)">h</text>
<text class="l" font-size="9.5" text-anchor="middle" transform="translate(415.20,218.00) scale(1.12,1)">a</text>
<text class="l" font-size="9.5" text-anchor="middle" transform="translate(415.20,229.15) scale(1.12,1)">b</text>
<text class="l" font-size="9.5" text-anchor="middle" transform="translate(415.20,240.30) scale(1.12,1)">c</text>
<text class="l" font-size="9.5" text-anchor="middle" transform="translate(415.20,251.45) scale(1.12,1)">d</text>
<text class="l" font-size="9.5" text-anchor="middle" transform="translate(415.20,262.60) scale(1.12,1)">h</text>
<text class="l" font-size="9.5" text-anchor="middle" transform="translate(422.10,211.70) scale(1.12,1)">a</text>
<text class="l" font-size="9.5" text-anchor="middle" transform="translate(422.10,222.85) scale(1.12,1)">b</text>
<text class="l" font-size="9.5" text-anchor="middle" transform="translate(422.10,234.00) scale(1.12,1)">c</text>
<text class="l" font-size="9.5" text-anchor="middle" transform="translate(422.10,245.15) scale(1.12,1)">d</text>
<text class="l" font-size="9.5" text-anchor="middle" transform="translate(422.10,256.30) scale(1.12,1)">h</text>
<text class="l" font-size="9.5" text-anchor="middle" transform="translate(430.00,211.70) scale(1.12,1)">a</text>
<text class="l" font-size="9.5" text-anchor="middle" transform="translate(430.00,222.85) scale(1.12,1)">b</text>
<text class="l" font-size="9.5" text-anchor="middle" transform="translate(430.00,234.00) scale(1.12,1)">c</text>
<text class="l" font-size="9.5" text-anchor="middle" transform="translate(430.00,245.15) scale(1.12,1)">d</text>
<text class="l" font-size="9.5" text-anchor="middle" transform="translate(430.00,256.30) scale(1.12,1)">h</text>
<text class="l" font-size="9.5" text-anchor="middle" transform="translate(450.70,201.10) scale(1.12,1)">a</text>
<text class="l" font-size="9.5" text-anchor="middle" transform="translate(450.70,212.25) scale(1.12,1)">c</text>
<text class="l" font-size="9.5" text-anchor="middle" transform="translate(450.70,223.40) scale(1.12,1)">d</text>
<text class="l" font-size="9.5" text-anchor="middle" transform="translate(450.70,234.55) scale(1.12,1)">h</text>
<text class="l" font-size="9.5" text-anchor="middle" transform="translate(457.90,210.50) scale(1.12,1)">a</text>
<text class="l" font-size="9.5" text-anchor="middle" transform="translate(457.90,221.65) scale(1.12,1)">c</text>
<text class="l" font-size="9.5" text-anchor="middle" transform="translate(457.90,232.80) scale(1.12,1)">d</text>
<text class="l" font-size="9.5" text-anchor="middle" transform="translate(457.90,243.95) scale(1.12,1)">h</text>
<text class="l" font-size="9.5" text-anchor="middle" transform="translate(465.30,192.10) scale(1.12,1)">a</text>
<text class="l" font-size="9.5" text-anchor="middle" transform="translate(465.30,203.25) scale(1.12,1)">c</text>
<text class="l" font-size="9.5" text-anchor="middle" transform="translate(465.30,214.40) scale(1.12,1)">d</text>
<text class="l" font-size="9.5" text-anchor="middle" transform="translate(465.30,225.55) scale(1.12,1)">h</text>
<text class="l" font-size="9.5" text-anchor="middle" transform="translate(472.80,178.20) scale(1.12,1)">a</text>
<text class="l" font-size="9.5" text-anchor="middle" transform="translate(472.80,189.35) scale(1.12,1)">c</text>
<text class="l" font-size="9.5" text-anchor="middle" transform="translate(472.80,200.50) scale(1.12,1)">d</text>
<text class="l" font-size="9.5" text-anchor="middle" transform="translate(472.80,211.65) scale(1.12,1)">h</text>
<text class="l" font-size="9.5" text-anchor="middle" transform="translate(530.80,219.10) scale(1.12,1)">a</text>
<text class="l" font-size="9.5" text-anchor="middle" transform="translate(530.80,230.25) scale(1.12,1)">b</text>
<text class="l" font-size="9.5" text-anchor="middle" transform="translate(530.80,241.40) scale(1.12,1)">c</text>
<text class="l" font-size="9.5" text-anchor="middle" transform="translate(530.80,252.55) scale(1.12,1)">d</text>
<text class="l" font-size="9.5" text-anchor="middle" transform="translate(530.80,263.70) scale(1.12,1)">k</text>
<text class="l" font-size="9.5" text-anchor="middle" transform="translate(539.30,219.10) scale(1.12,1)">a</text>
<text class="l" font-size="9.5" text-anchor="middle" transform="translate(539.30,230.25) scale(1.12,1)">b</text>
<text class="l" font-size="9.5" text-anchor="middle" transform="translate(539.30,241.40) scale(1.12,1)">c</text>
<text class="l" font-size="9.5" text-anchor="middle" transform="translate(539.30,252.55) scale(1.12,1)">d</text>
<text class="l" font-size="9.5" text-anchor="middle" transform="translate(539.30,263.70) scale(1.12,1)">k</text>
<text class="l" font-size="9.5" text-anchor="middle" transform="translate(547.50,219.10) scale(1.12,1)">a</text>
<text class="l" font-size="9.5" text-anchor="middle" transform="translate(547.50,230.25) scale(1.12,1)">b</text>
<text class="l" font-size="9.5" text-anchor="middle" transform="translate(547.50,241.40) scale(1.12,1)">c</text>
<text class="l" font-size="9.5" text-anchor="middle" transform="translate(547.50,252.55) scale(1.12,1)">d</text>
<text class="l" font-size="9.5" text-anchor="middle" transform="translate(547.50,263.70) scale(1.12,1)">k</text>
<text class="l" font-size="9.5" text-anchor="middle" transform="translate(554.70,215.80) scale(1.12,1)">a</text>
<text class="l" font-size="9.5" text-anchor="middle" transform="translate(554.70,226.95) scale(1.12,1)">b</text>
<text class="l" font-size="9.5" text-anchor="middle" transform="translate(554.70,238.10) scale(1.12,1)">c</text>
<text class="l" font-size="9.5" text-anchor="middle" transform="translate(554.70,249.25) scale(1.12,1)">d</text>
<text class="l" font-size="9.5" text-anchor="middle" transform="translate(554.70,260.40) scale(1.12,1)">k</text>
<text class="l" font-size="9.5" text-anchor="middle" transform="translate(561.20,218.70) scale(1.12,1)">a</text>
<text class="l" font-size="9.5" text-anchor="middle" transform="translate(561.20,229.85) scale(1.12,1)">b</text>
<text class="l" font-size="9.5" text-anchor="middle" transform="translate(561.20,241.00) scale(1.12,1)">c</text>
<text class="l" font-size="9.5" text-anchor="middle" transform="translate(561.20,252.15) scale(1.12,1)">d</text>
<text class="l" font-size="9.5" text-anchor="middle" transform="translate(561.20,263.30) scale(1.12,1)">k</text>
<text class="l" font-size="9.5" text-anchor="middle" transform="translate(573.70,217.10) scale(1.12,1)">b</text>
<text class="l" font-size="9.5" text-anchor="middle" transform="translate(573.70,228.25) scale(1.12,1)">k</text>
<text class="l" font-size="9.5" text-anchor="middle" transform="translate(581.80,171.30) scale(1.12,1)">a</text>
<text class="l" font-size="9.5" text-anchor="middle" transform="translate(581.80,182.45) scale(1.12,1)">c</text>
<text class="l" font-size="9.5" text-anchor="middle" transform="translate(581.80,193.60) scale(1.12,1)">d</text>
<text class="l" font-size="9.5" text-anchor="middle" transform="translate(581.80,204.75) scale(1.12,1)">k</text>
<text class="l" font-size="9.5" text-anchor="middle" transform="translate(589.00,179.50) scale(1.12,1)">a</text>
<text class="l" font-size="9.5" text-anchor="middle" transform="translate(589.00,190.65) scale(1.12,1)">c</text>
<text class="l" font-size="9.5" text-anchor="middle" transform="translate(589.00,201.80) scale(1.12,1)">d</text>
<text class="l" font-size="9.5" text-anchor="middle" transform="translate(589.00,212.95) scale(1.12,1)">k</text>
<text class="l" font-size="9.5" text-anchor="middle" transform="translate(597.20,159.30) scale(1.12,1)">a</text>
<text class="l" font-size="9.5" text-anchor="middle" transform="translate(597.20,170.45) scale(1.12,1)">c</text>
<text class="l" font-size="9.5" text-anchor="middle" transform="translate(597.20,181.60) scale(1.12,1)">k</text>
<text class="l" font-size="9.5" text-anchor="middle" transform="translate(604.40,152.10) scale(1.12,1)">a</text>
<text class="l" font-size="9.5" text-anchor="middle" transform="translate(604.40,163.25) scale(1.12,1)">c</text>
<text class="l" font-size="9.5" text-anchor="middle" transform="translate(604.40,174.40) scale(1.12,1)">k</text>
<g class="d">
<rect x="378.40" y="3.80" width="25.00" height="9.30" fill="#fff"/>
<clipPath id="c46"><rect x="379.40" y="4.80" width="23.00" height="7.30"/></clipPath><g clip-path="url(#c46)"><rect x="379.40" y="4.80" width="23.00" height="7.30" fill="#111"/><rect x="380.30" y="5.35" width="1.72" height="1.39" fill="#fff"/><rect x="383.58" y="5.35" width="1.72" height="1.39" fill="#fff"/><rect x="386.86" y="5.35" width="1.72" height="1.39" fill="#fff"/><rect x="390.14" y="5.35" width="1.72" height="1.39" fill="#fff"/><rect x="393.42" y="5.35" width="1.72" height="1.39" fill="#fff"/><rect x="396.70" y="5.35" width="1.72" height="1.39" fill="#fff"/><rect x="399.98" y="5.35" width="1.72" height="1.39" fill="#fff"/><rect x="381.94" y="6.81" width="1.72" height="1.39" fill="#fff"/><rect x="385.22" y="6.81" width="1.72" height="1.39" fill="#fff"/><rect x="388.50" y="6.81" width="1.72" height="1.39" fill="#fff"/><rect x="391.78" y="6.81" width="1.72" height="1.39" fill="#fff"/><rect x="395.06" y="6.81" width="1.72" height="1.39" fill="#fff"/><rect x="398.34" y="6.81" width="1.72" height="1.39" fill="#fff"/><rect x="380.30" y="8.27" width="1.72" height="1.39" fill="#fff"/><rect x="383.58" y="8.27" width="1.72" height="1.39" fill="#fff"/><rect x="386.86" y="8.27" width="1.72" height="1.39" fill="#fff"/><rect x="390.14" y="8.27" width="1.72" height="1.39" fill="#fff"/><rect x="393.42" y="8.27" width="1.72" height="1.39" fill="#fff"/><rect x="396.70" y="8.27" width="1.72" height="1.39" fill="#fff"/><rect x="399.98" y="8.27" width="1.72" height="1.39" fill="#fff"/><rect x="381.94" y="9.73" width="1.72" height="1.39" fill="#fff"/><rect x="385.22" y="9.73" width="1.72" height="1.39" fill="#fff"/><rect x="388.50" y="9.73" width="1.72" height="1.39" fill="#fff"/><rect x="391.78" y="9.73" width="1.72" height="1.39" fill="#fff"/><rect x="395.06" y="9.73" width="1.72" height="1.39" fill="#fff"/><rect x="398.34" y="9.73" width="1.72" height="1.39" fill="#fff"/></g>
<rect x="378.40" y="3.80" width="25.00" height="9.30" rx="0.8" fill="none" stroke="#000" stroke-width="2.1"/>
</g>
<text class="t" font-size="11.5" transform="translate(406.60,12.90) scale(1.165,1)"><tspan class="g" font-size="12.8">α</tspan>-tocopherol</text>
<g class="d">
<rect x="510.20" y="3.80" width="25.00" height="9.30" fill="#fff"/>
<clipPath id="c47"><rect x="511.20" y="4.80" width="23.00" height="7.30"/></clipPath><g clip-path="url(#c47)"><line x1="494.13" y1="3.80" x2="508.44" y2="13.10" style="stroke-width:1.75"/><line x1="501.53" y1="3.80" x2="515.84" y2="13.10" style="stroke-width:1.75"/><line x1="508.93" y1="3.80" x2="523.24" y2="13.10" style="stroke-width:1.75"/><line x1="516.33" y1="3.80" x2="530.64" y2="13.10" style="stroke-width:1.75"/><line x1="523.73" y1="3.80" x2="538.04" y2="13.10" style="stroke-width:1.75"/><line x1="531.13" y1="3.80" x2="545.44" y2="13.10" style="stroke-width:1.75"/><line x1="538.53" y1="3.80" x2="552.84" y2="13.10" style="stroke-width:1.75"/></g>
<rect x="510.20" y="3.80" width="25.00" height="9.30" rx="0.8" fill="none" stroke="#000" stroke-width="2.1"/>
</g>
<text class="t" font-size="11.5" transform="translate(538.30,13.00) scale(1.165,1)"><tspan class="g" font-size="12.8">α</tspan>-tocotrienol</text>
<g class="d">
<rect x="510.20" y="19.10" width="25.00" height="9.30" fill="#fff"/>
<clipPath id="c48"><rect x="511.20" y="20.10" width="23.00" height="7.30"/></clipPath><g clip-path="url(#c48)"><rect x="511.20" y="20.10" width="23.00" height="7.30" fill="#000"/><rect x="511.90" y="20.55" width="2.45" height="1.85" fill="#fff"/><rect x="518.00" y="20.55" width="2.45" height="1.85" fill="#fff"/><rect x="524.10" y="20.55" width="2.45" height="1.85" fill="#fff"/><rect x="530.20" y="20.55" width="2.45" height="1.85" fill="#fff"/><rect x="514.95" y="22.90" width="2.45" height="1.85" fill="#fff"/><rect x="521.05" y="22.90" width="2.45" height="1.85" fill="#fff"/><rect x="527.15" y="22.90" width="2.45" height="1.85" fill="#fff"/><rect x="511.90" y="25.25" width="2.45" height="1.85" fill="#fff"/><rect x="518.00" y="25.25" width="2.45" height="1.85" fill="#fff"/><rect x="524.10" y="25.25" width="2.45" height="1.85" fill="#fff"/><rect x="530.20" y="25.25" width="2.45" height="1.85" fill="#fff"/></g>
<rect x="510.20" y="19.10" width="25.00" height="9.30" rx="0.8" fill="none" stroke="#000" stroke-width="2.1"/>
</g>
<text class="t" font-size="11.5" transform="translate(538.60,28.40) scale(1.165,1)"><tspan class="g" font-size="12.8">β</tspan>-tocotrienol</text>
<g class="d">
<rect x="510.20" y="35.40" width="25.00" height="9.30" fill="#fff"/>
<clipPath id="c49"><rect x="511.20" y="36.40" width="23.00" height="7.30"/></clipPath><g clip-path="url(#c49)"><line x1="493.83" y1="44.70" x2="508.14" y2="35.40" style="stroke-width:1.75"/><line x1="501.23" y1="44.70" x2="515.54" y2="35.40" style="stroke-width:1.75"/><line x1="508.63" y1="44.70" x2="522.94" y2="35.40" style="stroke-width:1.75"/><line x1="516.03" y1="44.70" x2="530.34" y2="35.40" style="stroke-width:1.75"/><line x1="523.43" y1="44.70" x2="537.74" y2="35.40" style="stroke-width:1.75"/><line x1="530.83" y1="44.70" x2="545.14" y2="35.40" style="stroke-width:1.75"/><line x1="538.23" y1="44.70" x2="552.54" y2="35.40" style="stroke-width:1.75"/></g>
<rect x="510.20" y="35.40" width="25.00" height="9.30" rx="0.8" fill="none" stroke="#000" stroke-width="2.1"/>
</g>
<text class="t" font-size="11.5" transform="translate(538.00,44.40) scale(1.165,1)"><tspan class="g" font-size="12.8">γ</tspan>-tocotrienol</text>
<g class="d">
<rect x="511.00" y="52.80" width="25.00" height="9.30" fill="#fff"/>
<clipPath id="c50"><rect x="512.00" y="53.80" width="23.00" height="7.30"/></clipPath><g clip-path="url(#c50)"><rect x="512.00" y="54.55" width="23.00" height="1" fill="#777"/><rect x="512.00" y="56.95" width="23.00" height="1" fill="#777"/><rect x="512.00" y="59.35" width="23.00" height="1" fill="#777"/></g>
<rect x="511.00" y="52.80" width="25.00" height="9.30" rx="0.8" fill="none" stroke="#000" stroke-width="2.1"/>
</g>
<text class="t" font-size="11.5" transform="translate(539.20,61.60) scale(1.165,1)"><tspan class="g" font-size="12.8">δ</tspan>-tocotrienol</text>
</svg></body></html>
